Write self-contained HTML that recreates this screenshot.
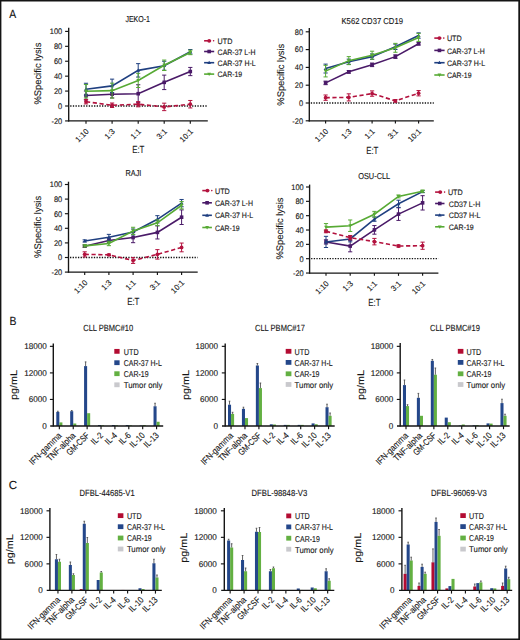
<!DOCTYPE html>
<html><head><meta charset="utf-8"><style>
html,body{margin:0;padding:0;background:#fff;}
svg{display:block;}
text{font-family:"Liberation Sans",sans-serif;text-rendering:geometricPrecision;}
</style></head><body>
<svg width="520" height="640" viewBox="0 0 520 640">
<rect width="520" height="640" fill="#fff"/>
<line x1="68.70" y1="27.70" x2="68.70" y2="121.52" stroke="#151515" stroke-width="1.35"/>
<line x1="68.10" y1="120.92" x2="207.80" y2="120.92" stroke="#151515" stroke-width="1.3"/>
<line x1="65.10" y1="120.92" x2="68.70" y2="120.92" stroke="#151515" stroke-width="1.15"/>
<text transform="translate(62.20,123.77) scale(0.920,1)" font-size="8.1" text-anchor="end" fill="#161616" stroke="#161616" stroke-width="0.12">-20</text>
<line x1="65.10" y1="106.00" x2="68.70" y2="106.00" stroke="#151515" stroke-width="1.15"/>
<text transform="translate(62.20,108.85) scale(0.920,1)" font-size="8.1" text-anchor="end" fill="#161616" stroke="#161616" stroke-width="0.12">0</text>
<line x1="65.10" y1="91.08" x2="68.70" y2="91.08" stroke="#151515" stroke-width="1.15"/>
<text transform="translate(62.20,93.93) scale(0.920,1)" font-size="8.1" text-anchor="end" fill="#161616" stroke="#161616" stroke-width="0.12">20</text>
<line x1="65.10" y1="76.16" x2="68.70" y2="76.16" stroke="#151515" stroke-width="1.15"/>
<text transform="translate(62.20,79.01) scale(0.920,1)" font-size="8.1" text-anchor="end" fill="#161616" stroke="#161616" stroke-width="0.12">40</text>
<line x1="65.10" y1="61.24" x2="68.70" y2="61.24" stroke="#151515" stroke-width="1.15"/>
<text transform="translate(62.20,64.09) scale(0.920,1)" font-size="8.1" text-anchor="end" fill="#161616" stroke="#161616" stroke-width="0.12">60</text>
<line x1="65.10" y1="46.32" x2="68.70" y2="46.32" stroke="#151515" stroke-width="1.15"/>
<text transform="translate(62.20,49.17) scale(0.920,1)" font-size="8.1" text-anchor="end" fill="#161616" stroke="#161616" stroke-width="0.12">80</text>
<line x1="65.10" y1="31.40" x2="68.70" y2="31.40" stroke="#151515" stroke-width="1.15"/>
<text transform="translate(62.20,34.25) scale(0.920,1)" font-size="8.1" text-anchor="end" fill="#161616" stroke="#161616" stroke-width="0.12">100</text>
<line x1="86.00" y1="120.92" x2="86.00" y2="123.72" stroke="#151515" stroke-width="1.15"/>
<text transform="translate(89.30,131.92) rotate(-45) scale(0.980,1)" font-size="8.0" text-anchor="end" fill="#161616" stroke="#161616" stroke-width="0.12">1:10</text>
<line x1="112.10" y1="120.92" x2="112.10" y2="123.72" stroke="#151515" stroke-width="1.15"/>
<text transform="translate(115.40,131.92) rotate(-45) scale(0.980,1)" font-size="8.0" text-anchor="end" fill="#161616" stroke="#161616" stroke-width="0.12">1:3</text>
<line x1="138.20" y1="120.92" x2="138.20" y2="123.72" stroke="#151515" stroke-width="1.15"/>
<text transform="translate(141.50,131.92) rotate(-45) scale(0.980,1)" font-size="8.0" text-anchor="end" fill="#161616" stroke="#161616" stroke-width="0.12">1:1</text>
<line x1="164.20" y1="120.92" x2="164.20" y2="123.72" stroke="#151515" stroke-width="1.15"/>
<text transform="translate(167.50,131.92) rotate(-45) scale(0.980,1)" font-size="8.0" text-anchor="end" fill="#161616" stroke="#161616" stroke-width="0.12">3:1</text>
<line x1="190.30" y1="120.92" x2="190.30" y2="123.72" stroke="#151515" stroke-width="1.15"/>
<text transform="translate(193.60,131.92) rotate(-45) scale(0.980,1)" font-size="8.0" text-anchor="end" fill="#161616" stroke="#161616" stroke-width="0.12">10:1</text>
<line x1="70.20" y1="106.00" x2="207.80" y2="106.00" stroke="#111" stroke-width="1.3" stroke-dasharray="1.3,1.35"/>
<polyline points="86.00,95.56 112.10,94.21 138.20,93.69 164.20,82.35 190.30,71.53" fill="none" stroke="#4A1A68" stroke-width="1.6"/>
<line x1="86.00" y1="91.08" x2="86.00" y2="100.03" stroke="#4A1A68" stroke-width="1.0"/>
<line x1="83.90" y1="91.08" x2="88.10" y2="91.08" stroke="#4A1A68" stroke-width="1.0"/>
<line x1="83.90" y1="100.03" x2="88.10" y2="100.03" stroke="#4A1A68" stroke-width="1.0"/>
<rect x="84.20" y="93.76" width="3.6" height="3.6" fill="#4A1A68"/>
<line x1="112.10" y1="90.48" x2="112.10" y2="97.94" stroke="#4A1A68" stroke-width="1.0"/>
<line x1="110.00" y1="90.48" x2="114.20" y2="90.48" stroke="#4A1A68" stroke-width="1.0"/>
<line x1="110.00" y1="97.94" x2="114.20" y2="97.94" stroke="#4A1A68" stroke-width="1.0"/>
<rect x="110.30" y="92.41" width="3.6" height="3.6" fill="#4A1A68"/>
<line x1="138.20" y1="84.74" x2="138.20" y2="102.64" stroke="#4A1A68" stroke-width="1.0"/>
<line x1="136.10" y1="84.74" x2="140.30" y2="84.74" stroke="#4A1A68" stroke-width="1.0"/>
<line x1="136.10" y1="102.64" x2="140.30" y2="102.64" stroke="#4A1A68" stroke-width="1.0"/>
<rect x="136.40" y="91.89" width="3.6" height="3.6" fill="#4A1A68"/>
<line x1="164.20" y1="75.12" x2="164.20" y2="89.59" stroke="#4A1A68" stroke-width="1.0"/>
<line x1="162.10" y1="75.12" x2="166.30" y2="75.12" stroke="#4A1A68" stroke-width="1.0"/>
<line x1="162.10" y1="89.59" x2="166.30" y2="89.59" stroke="#4A1A68" stroke-width="1.0"/>
<rect x="162.40" y="80.55" width="3.6" height="3.6" fill="#4A1A68"/>
<line x1="190.30" y1="67.43" x2="190.30" y2="75.64" stroke="#4A1A68" stroke-width="1.0"/>
<line x1="188.20" y1="67.43" x2="192.40" y2="67.43" stroke="#4A1A68" stroke-width="1.0"/>
<line x1="188.20" y1="75.64" x2="192.40" y2="75.64" stroke="#4A1A68" stroke-width="1.0"/>
<rect x="188.50" y="69.73" width="3.6" height="3.6" fill="#4A1A68"/>
<polyline points="86.00,89.22 112.10,85.86 138.20,70.34 164.20,65.72 190.30,51.77" fill="none" stroke="#1F3F80" stroke-width="1.6"/>
<line x1="86.00" y1="83.25" x2="86.00" y2="95.18" stroke="#1F3F80" stroke-width="1.0"/>
<line x1="83.90" y1="83.25" x2="88.10" y2="83.25" stroke="#1F3F80" stroke-width="1.0"/>
<line x1="83.90" y1="95.18" x2="88.10" y2="95.18" stroke="#1F3F80" stroke-width="1.0"/>
<path d="M84.10,90.62 L87.90,90.62 L86.00,87.31 Z" fill="#1F3F80"/>
<line x1="112.10" y1="79.14" x2="112.10" y2="92.57" stroke="#1F3F80" stroke-width="1.0"/>
<line x1="110.00" y1="79.14" x2="114.20" y2="79.14" stroke="#1F3F80" stroke-width="1.0"/>
<line x1="110.00" y1="92.57" x2="114.20" y2="92.57" stroke="#1F3F80" stroke-width="1.0"/>
<path d="M110.20,87.26 L114.00,87.26 L112.10,83.96 Z" fill="#1F3F80"/>
<line x1="138.20" y1="63.63" x2="138.20" y2="77.06" stroke="#1F3F80" stroke-width="1.0"/>
<line x1="136.10" y1="63.63" x2="140.30" y2="63.63" stroke="#1F3F80" stroke-width="1.0"/>
<line x1="136.10" y1="77.06" x2="140.30" y2="77.06" stroke="#1F3F80" stroke-width="1.0"/>
<path d="M136.30,71.74 L140.10,71.74 L138.20,68.44 Z" fill="#1F3F80"/>
<line x1="164.20" y1="61.24" x2="164.20" y2="70.19" stroke="#1F3F80" stroke-width="1.0"/>
<line x1="162.10" y1="61.24" x2="166.30" y2="61.24" stroke="#1F3F80" stroke-width="1.0"/>
<line x1="162.10" y1="70.19" x2="166.30" y2="70.19" stroke="#1F3F80" stroke-width="1.0"/>
<path d="M162.30,67.12 L166.10,67.12 L164.20,63.82 Z" fill="#1F3F80"/>
<line x1="190.30" y1="49.53" x2="190.30" y2="54.00" stroke="#1F3F80" stroke-width="1.0"/>
<line x1="188.20" y1="49.53" x2="192.40" y2="49.53" stroke="#1F3F80" stroke-width="1.0"/>
<line x1="188.20" y1="54.00" x2="192.40" y2="54.00" stroke="#1F3F80" stroke-width="1.0"/>
<path d="M188.40,53.17 L192.20,53.17 L190.30,49.87 Z" fill="#1F3F80"/>
<polyline points="86.00,91.23 112.10,90.63 138.20,80.41 164.20,65.27 190.30,52.44" fill="none" stroke="#57AA34" stroke-width="1.6"/>
<line x1="86.00" y1="84.52" x2="86.00" y2="97.94" stroke="#57AA34" stroke-width="1.0"/>
<line x1="83.90" y1="84.52" x2="88.10" y2="84.52" stroke="#57AA34" stroke-width="1.0"/>
<line x1="83.90" y1="97.94" x2="88.10" y2="97.94" stroke="#57AA34" stroke-width="1.0"/>
<path d="M84.10,89.83 L87.90,89.83 L86.00,93.13 Z" fill="#57AA34"/>
<line x1="112.10" y1="83.17" x2="112.10" y2="98.09" stroke="#57AA34" stroke-width="1.0"/>
<line x1="110.00" y1="83.17" x2="114.20" y2="83.17" stroke="#57AA34" stroke-width="1.0"/>
<line x1="110.00" y1="98.09" x2="114.20" y2="98.09" stroke="#57AA34" stroke-width="1.0"/>
<path d="M110.20,89.23 L114.00,89.23 L112.10,92.53 Z" fill="#57AA34"/>
<line x1="138.20" y1="73.33" x2="138.20" y2="87.50" stroke="#57AA34" stroke-width="1.0"/>
<line x1="136.10" y1="73.33" x2="140.30" y2="73.33" stroke="#57AA34" stroke-width="1.0"/>
<line x1="136.10" y1="87.50" x2="140.30" y2="87.50" stroke="#57AA34" stroke-width="1.0"/>
<path d="M136.30,79.01 L140.10,79.01 L138.20,82.31 Z" fill="#57AA34"/>
<line x1="164.20" y1="60.05" x2="164.20" y2="70.49" stroke="#57AA34" stroke-width="1.0"/>
<line x1="162.10" y1="60.05" x2="166.30" y2="60.05" stroke="#57AA34" stroke-width="1.0"/>
<line x1="162.10" y1="70.49" x2="166.30" y2="70.49" stroke="#57AA34" stroke-width="1.0"/>
<path d="M162.30,63.87 L166.10,63.87 L164.20,67.17 Z" fill="#57AA34"/>
<line x1="190.30" y1="50.20" x2="190.30" y2="54.68" stroke="#57AA34" stroke-width="1.0"/>
<line x1="188.20" y1="50.20" x2="192.40" y2="50.20" stroke="#57AA34" stroke-width="1.0"/>
<line x1="188.20" y1="54.68" x2="192.40" y2="54.68" stroke="#57AA34" stroke-width="1.0"/>
<path d="M188.40,51.04 L192.20,51.04 L190.30,54.34 Z" fill="#57AA34"/>
<polyline points="86.00,101.67 112.10,105.25 138.20,104.21 164.20,106.90 190.30,104.21" fill="none" stroke="#B3123E" stroke-width="1.6" stroke-dasharray="4.2,2.6"/>
<line x1="86.00" y1="99.44" x2="86.00" y2="103.91" stroke="#B3123E" stroke-width="1.0"/>
<line x1="83.90" y1="99.44" x2="88.10" y2="99.44" stroke="#B3123E" stroke-width="1.0"/>
<line x1="83.90" y1="103.91" x2="88.10" y2="103.91" stroke="#B3123E" stroke-width="1.0"/>
<circle cx="86.00" cy="101.67" r="1.9" fill="#B3123E"/>
<line x1="112.10" y1="103.02" x2="112.10" y2="107.49" stroke="#B3123E" stroke-width="1.0"/>
<line x1="110.00" y1="103.02" x2="114.20" y2="103.02" stroke="#B3123E" stroke-width="1.0"/>
<line x1="110.00" y1="107.49" x2="114.20" y2="107.49" stroke="#B3123E" stroke-width="1.0"/>
<circle cx="112.10" cy="105.25" r="1.9" fill="#B3123E"/>
<line x1="138.20" y1="101.60" x2="138.20" y2="106.82" stroke="#B3123E" stroke-width="1.0"/>
<line x1="136.10" y1="101.60" x2="140.30" y2="101.60" stroke="#B3123E" stroke-width="1.0"/>
<line x1="136.10" y1="106.82" x2="140.30" y2="106.82" stroke="#B3123E" stroke-width="1.0"/>
<circle cx="138.20" cy="104.21" r="1.9" fill="#B3123E"/>
<line x1="164.20" y1="103.17" x2="164.20" y2="110.63" stroke="#B3123E" stroke-width="1.0"/>
<line x1="162.10" y1="103.17" x2="166.30" y2="103.17" stroke="#B3123E" stroke-width="1.0"/>
<line x1="162.10" y1="110.63" x2="166.30" y2="110.63" stroke="#B3123E" stroke-width="1.0"/>
<circle cx="164.20" cy="106.90" r="1.9" fill="#B3123E"/>
<line x1="190.30" y1="100.48" x2="190.30" y2="107.94" stroke="#B3123E" stroke-width="1.0"/>
<line x1="188.20" y1="100.48" x2="192.40" y2="100.48" stroke="#B3123E" stroke-width="1.0"/>
<line x1="188.20" y1="107.94" x2="192.40" y2="107.94" stroke="#B3123E" stroke-width="1.0"/>
<circle cx="190.30" cy="104.21" r="1.9" fill="#B3123E"/>
<text transform="translate(137.70,22.10) scale(0.817,1)" font-size="8.6" text-anchor="middle" fill="#161616" stroke="#161616" stroke-width="0.12">JEKO-1</text>
<text transform="translate(138.30,153.10) scale(0.770,1)" font-size="10.3" text-anchor="middle" fill="#161616" stroke="#161616" stroke-width="0.12">E:T</text>
<text transform="translate(41.00,73.60) rotate(-90) scale(0.977,1)" font-size="9.6" text-anchor="middle" fill="#161616" stroke="#161616" stroke-width="0.12">%Specific lysis</text>
<line x1="204.10" y1="40.80" x2="211.10" y2="40.80" stroke="#B3123E" stroke-width="1.6"/>
<circle cx="209.20" cy="40.80" r="1.9" fill="#B3123E"/>
<circle cx="213.60" cy="40.80" r="0.8" fill="#B3123E"/>
<text transform="translate(217.60,43.90) scale(0.912,1)" font-size="7.9" text-anchor="start" fill="#161616" stroke="#161616" stroke-width="0.12">UTD</text>
<line x1="204.10" y1="51.50" x2="214.20" y2="51.50" stroke="#4A1A68" stroke-width="1.6"/>
<rect x="207.35" y="49.70" width="3.6" height="3.6" fill="#4A1A68"/>
<text transform="translate(217.60,54.60) scale(0.883,1)" font-size="7.9" text-anchor="start" fill="#161616" stroke="#161616" stroke-width="0.12">CAR-37 L-H</text>
<line x1="204.10" y1="62.70" x2="214.20" y2="62.70" stroke="#1F3F80" stroke-width="1.6"/>
<path d="M207.25,64.10 L211.05,64.10 L209.15,60.80 Z" fill="#1F3F80"/>
<text transform="translate(217.60,65.80) scale(0.888,1)" font-size="7.9" text-anchor="start" fill="#161616" stroke="#161616" stroke-width="0.12">CAR-37 H-L</text>
<line x1="204.10" y1="74.10" x2="214.20" y2="74.10" stroke="#57AA34" stroke-width="1.6"/>
<path d="M207.25,72.70 L211.05,72.70 L209.15,76.00 Z" fill="#57AA34"/>
<text transform="translate(217.60,77.20) scale(0.876,1)" font-size="7.9" text-anchor="start" fill="#161616" stroke="#161616" stroke-width="0.12">CAR-19</text>
<line x1="309.30" y1="28.10" x2="309.30" y2="121.40" stroke="#151515" stroke-width="1.35"/>
<line x1="308.70" y1="120.80" x2="433.80" y2="120.80" stroke="#151515" stroke-width="1.3"/>
<line x1="305.70" y1="120.80" x2="309.30" y2="120.80" stroke="#151515" stroke-width="1.15"/>
<text transform="translate(303.10,123.65) scale(0.920,1)" font-size="8.1" text-anchor="end" fill="#161616" stroke="#161616" stroke-width="0.12">-20</text>
<line x1="305.70" y1="103.00" x2="309.30" y2="103.00" stroke="#151515" stroke-width="1.15"/>
<text transform="translate(303.10,105.85) scale(0.920,1)" font-size="8.1" text-anchor="end" fill="#161616" stroke="#161616" stroke-width="0.12">0</text>
<line x1="305.70" y1="85.20" x2="309.30" y2="85.20" stroke="#151515" stroke-width="1.15"/>
<text transform="translate(303.10,88.05) scale(0.920,1)" font-size="8.1" text-anchor="end" fill="#161616" stroke="#161616" stroke-width="0.12">20</text>
<line x1="305.70" y1="67.40" x2="309.30" y2="67.40" stroke="#151515" stroke-width="1.15"/>
<text transform="translate(303.10,70.25) scale(0.920,1)" font-size="8.1" text-anchor="end" fill="#161616" stroke="#161616" stroke-width="0.12">40</text>
<line x1="305.70" y1="49.60" x2="309.30" y2="49.60" stroke="#151515" stroke-width="1.15"/>
<text transform="translate(303.10,52.45) scale(0.920,1)" font-size="8.1" text-anchor="end" fill="#161616" stroke="#161616" stroke-width="0.12">60</text>
<line x1="305.70" y1="31.80" x2="309.30" y2="31.80" stroke="#151515" stroke-width="1.15"/>
<text transform="translate(303.10,34.65) scale(0.920,1)" font-size="8.1" text-anchor="end" fill="#161616" stroke="#161616" stroke-width="0.12">80</text>
<line x1="325.60" y1="120.80" x2="325.60" y2="123.60" stroke="#151515" stroke-width="1.15"/>
<text transform="translate(328.90,131.80) rotate(-45) scale(0.980,1)" font-size="8.0" text-anchor="end" fill="#161616" stroke="#161616" stroke-width="0.12">1:10</text>
<line x1="348.80" y1="120.80" x2="348.80" y2="123.60" stroke="#151515" stroke-width="1.15"/>
<text transform="translate(352.10,131.80) rotate(-45) scale(0.980,1)" font-size="8.0" text-anchor="end" fill="#161616" stroke="#161616" stroke-width="0.12">1:3</text>
<line x1="372.10" y1="120.80" x2="372.10" y2="123.60" stroke="#151515" stroke-width="1.15"/>
<text transform="translate(375.40,131.80) rotate(-45) scale(0.980,1)" font-size="8.0" text-anchor="end" fill="#161616" stroke="#161616" stroke-width="0.12">1:1</text>
<line x1="395.40" y1="120.80" x2="395.40" y2="123.60" stroke="#151515" stroke-width="1.15"/>
<text transform="translate(398.70,131.80) rotate(-45) scale(0.980,1)" font-size="8.0" text-anchor="end" fill="#161616" stroke="#161616" stroke-width="0.12">3:1</text>
<line x1="418.60" y1="120.80" x2="418.60" y2="123.60" stroke="#151515" stroke-width="1.15"/>
<text transform="translate(421.90,131.80) rotate(-45) scale(0.980,1)" font-size="8.0" text-anchor="end" fill="#161616" stroke="#161616" stroke-width="0.12">10:1</text>
<line x1="310.80" y1="103.00" x2="433.80" y2="103.00" stroke="#111" stroke-width="1.3" stroke-dasharray="1.3,1.35"/>
<polyline points="325.60,82.89 348.80,71.85 372.10,64.82 395.40,56.63 418.60,43.73" fill="none" stroke="#4A1A68" stroke-width="1.6"/>
<line x1="325.60" y1="81.11" x2="325.60" y2="84.67" stroke="#4A1A68" stroke-width="1.0"/>
<line x1="323.50" y1="81.11" x2="327.70" y2="81.11" stroke="#4A1A68" stroke-width="1.0"/>
<line x1="323.50" y1="84.67" x2="327.70" y2="84.67" stroke="#4A1A68" stroke-width="1.0"/>
<rect x="323.80" y="81.09" width="3.6" height="3.6" fill="#4A1A68"/>
<line x1="348.80" y1="70.52" x2="348.80" y2="73.18" stroke="#4A1A68" stroke-width="1.0"/>
<line x1="346.70" y1="70.52" x2="350.90" y2="70.52" stroke="#4A1A68" stroke-width="1.0"/>
<line x1="346.70" y1="73.18" x2="350.90" y2="73.18" stroke="#4A1A68" stroke-width="1.0"/>
<rect x="347.00" y="70.05" width="3.6" height="3.6" fill="#4A1A68"/>
<line x1="372.10" y1="63.04" x2="372.10" y2="66.60" stroke="#4A1A68" stroke-width="1.0"/>
<line x1="370.00" y1="63.04" x2="374.20" y2="63.04" stroke="#4A1A68" stroke-width="1.0"/>
<line x1="370.00" y1="66.60" x2="374.20" y2="66.60" stroke="#4A1A68" stroke-width="1.0"/>
<rect x="370.30" y="63.02" width="3.6" height="3.6" fill="#4A1A68"/>
<line x1="395.40" y1="54.85" x2="395.40" y2="58.41" stroke="#4A1A68" stroke-width="1.0"/>
<line x1="393.30" y1="54.85" x2="397.50" y2="54.85" stroke="#4A1A68" stroke-width="1.0"/>
<line x1="393.30" y1="58.41" x2="397.50" y2="58.41" stroke="#4A1A68" stroke-width="1.0"/>
<rect x="393.60" y="54.83" width="3.6" height="3.6" fill="#4A1A68"/>
<line x1="418.60" y1="42.39" x2="418.60" y2="45.06" stroke="#4A1A68" stroke-width="1.0"/>
<line x1="416.50" y1="42.39" x2="420.70" y2="42.39" stroke="#4A1A68" stroke-width="1.0"/>
<line x1="416.50" y1="45.06" x2="420.70" y2="45.06" stroke="#4A1A68" stroke-width="1.0"/>
<rect x="416.80" y="41.93" width="3.6" height="3.6" fill="#4A1A68"/>
<polyline points="325.60,68.56 348.80,61.79 372.10,56.63 395.40,46.84 418.60,35.54" fill="none" stroke="#1F3F80" stroke-width="1.6"/>
<line x1="325.60" y1="64.11" x2="325.60" y2="73.01" stroke="#1F3F80" stroke-width="1.0"/>
<line x1="323.50" y1="64.11" x2="327.70" y2="64.11" stroke="#1F3F80" stroke-width="1.0"/>
<line x1="323.50" y1="73.01" x2="327.70" y2="73.01" stroke="#1F3F80" stroke-width="1.0"/>
<path d="M323.70,69.96 L327.50,69.96 L325.60,66.66 Z" fill="#1F3F80"/>
<line x1="348.80" y1="59.12" x2="348.80" y2="64.46" stroke="#1F3F80" stroke-width="1.0"/>
<line x1="346.70" y1="59.12" x2="350.90" y2="59.12" stroke="#1F3F80" stroke-width="1.0"/>
<line x1="346.70" y1="64.46" x2="350.90" y2="64.46" stroke="#1F3F80" stroke-width="1.0"/>
<path d="M346.90,63.19 L350.70,63.19 L348.80,59.89 Z" fill="#1F3F80"/>
<line x1="372.10" y1="53.96" x2="372.10" y2="59.30" stroke="#1F3F80" stroke-width="1.0"/>
<line x1="370.00" y1="53.96" x2="374.20" y2="53.96" stroke="#1F3F80" stroke-width="1.0"/>
<line x1="370.00" y1="59.30" x2="374.20" y2="59.30" stroke="#1F3F80" stroke-width="1.0"/>
<path d="M370.20,58.03 L374.00,58.03 L372.10,54.73 Z" fill="#1F3F80"/>
<line x1="395.40" y1="44.17" x2="395.40" y2="49.51" stroke="#1F3F80" stroke-width="1.0"/>
<line x1="393.30" y1="44.17" x2="397.50" y2="44.17" stroke="#1F3F80" stroke-width="1.0"/>
<line x1="393.30" y1="49.51" x2="397.50" y2="49.51" stroke="#1F3F80" stroke-width="1.0"/>
<path d="M393.50,48.24 L397.30,48.24 L395.40,44.94 Z" fill="#1F3F80"/>
<line x1="418.60" y1="32.87" x2="418.60" y2="38.21" stroke="#1F3F80" stroke-width="1.0"/>
<line x1="416.50" y1="32.87" x2="420.70" y2="32.87" stroke="#1F3F80" stroke-width="1.0"/>
<line x1="416.50" y1="38.21" x2="420.70" y2="38.21" stroke="#1F3F80" stroke-width="1.0"/>
<path d="M416.70,36.94 L420.50,36.94 L418.60,33.64 Z" fill="#1F3F80"/>
<polyline points="325.60,71.14 348.80,60.64 372.10,55.21 395.40,47.82 418.60,37.41" fill="none" stroke="#57AA34" stroke-width="1.6"/>
<line x1="325.60" y1="65.35" x2="325.60" y2="76.92" stroke="#57AA34" stroke-width="1.0"/>
<line x1="323.50" y1="65.35" x2="327.70" y2="65.35" stroke="#57AA34" stroke-width="1.0"/>
<line x1="323.50" y1="76.92" x2="327.70" y2="76.92" stroke="#57AA34" stroke-width="1.0"/>
<path d="M323.70,69.74 L327.50,69.74 L325.60,73.04 Z" fill="#57AA34"/>
<line x1="348.80" y1="56.63" x2="348.80" y2="64.64" stroke="#57AA34" stroke-width="1.0"/>
<line x1="346.70" y1="56.63" x2="350.90" y2="56.63" stroke="#57AA34" stroke-width="1.0"/>
<line x1="346.70" y1="64.64" x2="350.90" y2="64.64" stroke="#57AA34" stroke-width="1.0"/>
<path d="M346.90,59.24 L350.70,59.24 L348.80,62.54 Z" fill="#57AA34"/>
<line x1="372.10" y1="51.20" x2="372.10" y2="59.21" stroke="#57AA34" stroke-width="1.0"/>
<line x1="370.00" y1="51.20" x2="374.20" y2="51.20" stroke="#57AA34" stroke-width="1.0"/>
<line x1="370.00" y1="59.21" x2="374.20" y2="59.21" stroke="#57AA34" stroke-width="1.0"/>
<path d="M370.20,53.81 L374.00,53.81 L372.10,57.11 Z" fill="#57AA34"/>
<line x1="395.40" y1="43.37" x2="395.40" y2="52.27" stroke="#57AA34" stroke-width="1.0"/>
<line x1="393.30" y1="43.37" x2="397.50" y2="43.37" stroke="#57AA34" stroke-width="1.0"/>
<line x1="393.30" y1="52.27" x2="397.50" y2="52.27" stroke="#57AA34" stroke-width="1.0"/>
<path d="M393.50,46.42 L397.30,46.42 L395.40,49.72 Z" fill="#57AA34"/>
<line x1="418.60" y1="33.40" x2="418.60" y2="41.41" stroke="#57AA34" stroke-width="1.0"/>
<line x1="416.50" y1="33.40" x2="420.70" y2="33.40" stroke="#57AA34" stroke-width="1.0"/>
<line x1="416.50" y1="41.41" x2="420.70" y2="41.41" stroke="#57AA34" stroke-width="1.0"/>
<path d="M416.70,36.01 L420.50,36.01 L418.60,39.31 Z" fill="#57AA34"/>
<polyline points="325.60,97.66 348.80,97.39 372.10,93.57 395.40,100.86 418.60,93.21" fill="none" stroke="#B3123E" stroke-width="1.6" stroke-dasharray="4.2,2.6"/>
<line x1="325.60" y1="94.99" x2="325.60" y2="100.33" stroke="#B3123E" stroke-width="1.0"/>
<line x1="323.50" y1="94.99" x2="327.70" y2="94.99" stroke="#B3123E" stroke-width="1.0"/>
<line x1="323.50" y1="100.33" x2="327.70" y2="100.33" stroke="#B3123E" stroke-width="1.0"/>
<circle cx="325.60" cy="97.66" r="1.9" fill="#B3123E"/>
<line x1="348.80" y1="93.83" x2="348.80" y2="100.95" stroke="#B3123E" stroke-width="1.0"/>
<line x1="346.70" y1="93.83" x2="350.90" y2="93.83" stroke="#B3123E" stroke-width="1.0"/>
<line x1="346.70" y1="100.95" x2="350.90" y2="100.95" stroke="#B3123E" stroke-width="1.0"/>
<circle cx="348.80" cy="97.39" r="1.9" fill="#B3123E"/>
<line x1="372.10" y1="90.90" x2="372.10" y2="96.24" stroke="#B3123E" stroke-width="1.0"/>
<line x1="370.00" y1="90.90" x2="374.20" y2="90.90" stroke="#B3123E" stroke-width="1.0"/>
<line x1="370.00" y1="96.24" x2="374.20" y2="96.24" stroke="#B3123E" stroke-width="1.0"/>
<circle cx="372.10" cy="93.57" r="1.9" fill="#B3123E"/>
<line x1="395.40" y1="99.53" x2="395.40" y2="102.20" stroke="#B3123E" stroke-width="1.0"/>
<line x1="393.30" y1="99.53" x2="397.50" y2="99.53" stroke="#B3123E" stroke-width="1.0"/>
<line x1="393.30" y1="102.20" x2="397.50" y2="102.20" stroke="#B3123E" stroke-width="1.0"/>
<circle cx="395.40" cy="100.86" r="1.9" fill="#B3123E"/>
<line x1="418.60" y1="90.54" x2="418.60" y2="95.88" stroke="#B3123E" stroke-width="1.0"/>
<line x1="416.50" y1="90.54" x2="420.70" y2="90.54" stroke="#B3123E" stroke-width="1.0"/>
<line x1="416.50" y1="95.88" x2="420.70" y2="95.88" stroke="#B3123E" stroke-width="1.0"/>
<circle cx="418.60" cy="93.21" r="1.9" fill="#B3123E"/>
<text transform="translate(372.20,23.50) scale(0.893,1)" font-size="8.6" text-anchor="middle" fill="#161616" stroke="#161616" stroke-width="0.12">K562 CD37 CD19</text>
<text transform="translate(372.30,154.30) scale(0.770,1)" font-size="10.3" text-anchor="middle" fill="#161616" stroke="#161616" stroke-width="0.12">E:T</text>
<text transform="translate(284.10,74.70) rotate(-90) scale(0.977,1)" font-size="9.6" text-anchor="middle" fill="#161616" stroke="#161616" stroke-width="0.12">%Specific lysis</text>
<line x1="434.30" y1="38.10" x2="441.30" y2="38.10" stroke="#B3123E" stroke-width="1.6"/>
<circle cx="439.40" cy="38.10" r="1.9" fill="#B3123E"/>
<circle cx="443.80" cy="38.10" r="0.8" fill="#B3123E"/>
<text transform="translate(446.90,41.20) scale(0.912,1)" font-size="7.9" text-anchor="start" fill="#161616" stroke="#161616" stroke-width="0.12">UTD</text>
<line x1="434.30" y1="50.40" x2="444.60" y2="50.40" stroke="#4A1A68" stroke-width="1.6"/>
<rect x="437.65" y="48.60" width="3.6" height="3.6" fill="#4A1A68"/>
<text transform="translate(446.90,53.50) scale(0.883,1)" font-size="7.9" text-anchor="start" fill="#161616" stroke="#161616" stroke-width="0.12">CAR-37 L-H</text>
<line x1="434.30" y1="62.70" x2="444.60" y2="62.70" stroke="#1F3F80" stroke-width="1.6"/>
<path d="M437.55,64.10 L441.35,64.10 L439.45,60.80 Z" fill="#1F3F80"/>
<text transform="translate(446.90,65.80) scale(0.888,1)" font-size="7.9" text-anchor="start" fill="#161616" stroke="#161616" stroke-width="0.12">CAR-37 H-L</text>
<line x1="434.30" y1="75.00" x2="444.60" y2="75.00" stroke="#57AA34" stroke-width="1.6"/>
<path d="M437.55,73.60 L441.35,73.60 L439.45,76.90 Z" fill="#57AA34"/>
<text transform="translate(446.90,78.10) scale(0.876,1)" font-size="7.9" text-anchor="start" fill="#161616" stroke="#161616" stroke-width="0.12">CAR-19</text>
<line x1="68.50" y1="181.70" x2="68.50" y2="272.70" stroke="#151515" stroke-width="1.35"/>
<line x1="67.90" y1="272.10" x2="197.70" y2="272.10" stroke="#151515" stroke-width="1.3"/>
<line x1="64.90" y1="272.10" x2="68.50" y2="272.10" stroke="#151515" stroke-width="1.15"/>
<text transform="translate(62.20,274.95) scale(0.920,1)" font-size="8.1" text-anchor="end" fill="#161616" stroke="#161616" stroke-width="0.12">-20</text>
<line x1="64.90" y1="257.50" x2="68.50" y2="257.50" stroke="#151515" stroke-width="1.15"/>
<text transform="translate(62.20,260.35) scale(0.920,1)" font-size="8.1" text-anchor="end" fill="#161616" stroke="#161616" stroke-width="0.12">0</text>
<line x1="64.90" y1="242.90" x2="68.50" y2="242.90" stroke="#151515" stroke-width="1.15"/>
<text transform="translate(62.20,245.75) scale(0.920,1)" font-size="8.1" text-anchor="end" fill="#161616" stroke="#161616" stroke-width="0.12">20</text>
<line x1="64.90" y1="228.30" x2="68.50" y2="228.30" stroke="#151515" stroke-width="1.15"/>
<text transform="translate(62.20,231.15) scale(0.920,1)" font-size="8.1" text-anchor="end" fill="#161616" stroke="#161616" stroke-width="0.12">40</text>
<line x1="64.90" y1="213.70" x2="68.50" y2="213.70" stroke="#151515" stroke-width="1.15"/>
<text transform="translate(62.20,216.55) scale(0.920,1)" font-size="8.1" text-anchor="end" fill="#161616" stroke="#161616" stroke-width="0.12">60</text>
<line x1="64.90" y1="199.10" x2="68.50" y2="199.10" stroke="#151515" stroke-width="1.15"/>
<text transform="translate(62.20,201.95) scale(0.920,1)" font-size="8.1" text-anchor="end" fill="#161616" stroke="#161616" stroke-width="0.12">80</text>
<line x1="64.90" y1="184.50" x2="68.50" y2="184.50" stroke="#151515" stroke-width="1.15"/>
<text transform="translate(62.20,187.35) scale(0.920,1)" font-size="8.1" text-anchor="end" fill="#161616" stroke="#161616" stroke-width="0.12">100</text>
<line x1="84.70" y1="272.10" x2="84.70" y2="274.90" stroke="#151515" stroke-width="1.15"/>
<text transform="translate(88.00,283.10) rotate(-45) scale(0.980,1)" font-size="8.0" text-anchor="end" fill="#161616" stroke="#161616" stroke-width="0.12">1:10</text>
<line x1="108.90" y1="272.10" x2="108.90" y2="274.90" stroke="#151515" stroke-width="1.15"/>
<text transform="translate(112.20,283.10) rotate(-45) scale(0.980,1)" font-size="8.0" text-anchor="end" fill="#161616" stroke="#161616" stroke-width="0.12">1:3</text>
<line x1="133.10" y1="272.10" x2="133.10" y2="274.90" stroke="#151515" stroke-width="1.15"/>
<text transform="translate(136.40,283.10) rotate(-45) scale(0.980,1)" font-size="8.0" text-anchor="end" fill="#161616" stroke="#161616" stroke-width="0.12">1:1</text>
<line x1="157.40" y1="272.10" x2="157.40" y2="274.90" stroke="#151515" stroke-width="1.15"/>
<text transform="translate(160.70,283.10) rotate(-45) scale(0.980,1)" font-size="8.0" text-anchor="end" fill="#161616" stroke="#161616" stroke-width="0.12">3:1</text>
<line x1="181.60" y1="272.10" x2="181.60" y2="274.90" stroke="#151515" stroke-width="1.15"/>
<text transform="translate(184.90,283.10) rotate(-45) scale(0.980,1)" font-size="8.0" text-anchor="end" fill="#161616" stroke="#161616" stroke-width="0.12">10:1</text>
<line x1="70.00" y1="257.50" x2="197.70" y2="257.50" stroke="#111" stroke-width="1.3" stroke-dasharray="1.3,1.35"/>
<polyline points="84.70,246.19 108.90,240.42 133.10,237.57 157.40,232.39 181.60,217.20" fill="none" stroke="#4A1A68" stroke-width="1.6"/>
<line x1="84.70" y1="245.09" x2="84.70" y2="247.28" stroke="#4A1A68" stroke-width="1.0"/>
<line x1="82.60" y1="245.09" x2="86.80" y2="245.09" stroke="#4A1A68" stroke-width="1.0"/>
<line x1="82.60" y1="247.28" x2="86.80" y2="247.28" stroke="#4A1A68" stroke-width="1.0"/>
<rect x="82.90" y="244.38" width="3.6" height="3.6" fill="#4A1A68"/>
<line x1="108.90" y1="238.23" x2="108.90" y2="242.61" stroke="#4A1A68" stroke-width="1.0"/>
<line x1="106.80" y1="238.23" x2="111.00" y2="238.23" stroke="#4A1A68" stroke-width="1.0"/>
<line x1="106.80" y1="242.61" x2="111.00" y2="242.61" stroke="#4A1A68" stroke-width="1.0"/>
<rect x="107.10" y="238.62" width="3.6" height="3.6" fill="#4A1A68"/>
<line x1="133.10" y1="232.46" x2="133.10" y2="242.68" stroke="#4A1A68" stroke-width="1.0"/>
<line x1="131.00" y1="232.46" x2="135.20" y2="232.46" stroke="#4A1A68" stroke-width="1.0"/>
<line x1="131.00" y1="242.68" x2="135.20" y2="242.68" stroke="#4A1A68" stroke-width="1.0"/>
<rect x="131.30" y="235.77" width="3.6" height="3.6" fill="#4A1A68"/>
<line x1="157.40" y1="225.82" x2="157.40" y2="238.96" stroke="#4A1A68" stroke-width="1.0"/>
<line x1="155.30" y1="225.82" x2="159.50" y2="225.82" stroke="#4A1A68" stroke-width="1.0"/>
<line x1="155.30" y1="238.96" x2="159.50" y2="238.96" stroke="#4A1A68" stroke-width="1.0"/>
<rect x="155.60" y="230.59" width="3.6" height="3.6" fill="#4A1A68"/>
<line x1="181.60" y1="209.90" x2="181.60" y2="224.50" stroke="#4A1A68" stroke-width="1.0"/>
<line x1="179.50" y1="209.90" x2="183.70" y2="209.90" stroke="#4A1A68" stroke-width="1.0"/>
<line x1="179.50" y1="224.50" x2="183.70" y2="224.50" stroke="#4A1A68" stroke-width="1.0"/>
<rect x="179.80" y="215.40" width="3.6" height="3.6" fill="#4A1A68"/>
<polyline points="84.70,240.93 108.90,237.28 133.10,231.95 157.40,219.32 181.60,203.12" fill="none" stroke="#1F3F80" stroke-width="1.6"/>
<line x1="84.70" y1="239.83" x2="84.70" y2="242.02" stroke="#1F3F80" stroke-width="1.0"/>
<line x1="82.60" y1="239.83" x2="86.80" y2="239.83" stroke="#1F3F80" stroke-width="1.0"/>
<line x1="82.60" y1="242.02" x2="86.80" y2="242.02" stroke="#1F3F80" stroke-width="1.0"/>
<path d="M82.80,242.33 L86.60,242.33 L84.70,239.03 Z" fill="#1F3F80"/>
<line x1="108.90" y1="234.36" x2="108.90" y2="240.20" stroke="#1F3F80" stroke-width="1.0"/>
<line x1="106.80" y1="234.36" x2="111.00" y2="234.36" stroke="#1F3F80" stroke-width="1.0"/>
<line x1="106.80" y1="240.20" x2="111.00" y2="240.20" stroke="#1F3F80" stroke-width="1.0"/>
<path d="M107.00,238.68 L110.80,238.68 L108.90,235.38 Z" fill="#1F3F80"/>
<line x1="133.10" y1="229.03" x2="133.10" y2="234.87" stroke="#1F3F80" stroke-width="1.0"/>
<line x1="131.00" y1="229.03" x2="135.20" y2="229.03" stroke="#1F3F80" stroke-width="1.0"/>
<line x1="131.00" y1="234.87" x2="135.20" y2="234.87" stroke="#1F3F80" stroke-width="1.0"/>
<path d="M131.20,233.35 L135.00,233.35 L133.10,230.05 Z" fill="#1F3F80"/>
<line x1="157.40" y1="215.67" x2="157.40" y2="222.97" stroke="#1F3F80" stroke-width="1.0"/>
<line x1="155.30" y1="215.67" x2="159.50" y2="215.67" stroke="#1F3F80" stroke-width="1.0"/>
<line x1="155.30" y1="222.97" x2="159.50" y2="222.97" stroke="#1F3F80" stroke-width="1.0"/>
<path d="M155.50,220.72 L159.30,220.72 L157.40,217.42 Z" fill="#1F3F80"/>
<line x1="181.60" y1="199.47" x2="181.60" y2="206.77" stroke="#1F3F80" stroke-width="1.0"/>
<line x1="179.50" y1="199.47" x2="183.70" y2="199.47" stroke="#1F3F80" stroke-width="1.0"/>
<line x1="179.50" y1="206.77" x2="183.70" y2="206.77" stroke="#1F3F80" stroke-width="1.0"/>
<path d="M179.70,204.52 L183.50,204.52 L181.60,201.22 Z" fill="#1F3F80"/>
<polyline points="84.70,245.89 108.90,243.48 133.10,230.93 157.40,222.82 181.60,205.23" fill="none" stroke="#57AA34" stroke-width="1.6"/>
<line x1="84.70" y1="244.80" x2="84.70" y2="246.99" stroke="#57AA34" stroke-width="1.0"/>
<line x1="82.60" y1="244.80" x2="86.80" y2="244.80" stroke="#57AA34" stroke-width="1.0"/>
<line x1="82.60" y1="246.99" x2="86.80" y2="246.99" stroke="#57AA34" stroke-width="1.0"/>
<path d="M82.80,244.49 L86.60,244.49 L84.70,247.79 Z" fill="#57AA34"/>
<line x1="108.90" y1="241.29" x2="108.90" y2="245.67" stroke="#57AA34" stroke-width="1.0"/>
<line x1="106.80" y1="241.29" x2="111.00" y2="241.29" stroke="#57AA34" stroke-width="1.0"/>
<line x1="106.80" y1="245.67" x2="111.00" y2="245.67" stroke="#57AA34" stroke-width="1.0"/>
<path d="M107.00,242.08 L110.80,242.08 L108.90,245.38 Z" fill="#57AA34"/>
<line x1="133.10" y1="227.28" x2="133.10" y2="234.58" stroke="#57AA34" stroke-width="1.0"/>
<line x1="131.00" y1="227.28" x2="135.20" y2="227.28" stroke="#57AA34" stroke-width="1.0"/>
<line x1="131.00" y1="234.58" x2="135.20" y2="234.58" stroke="#57AA34" stroke-width="1.0"/>
<path d="M131.20,229.53 L135.00,229.53 L133.10,232.83 Z" fill="#57AA34"/>
<line x1="157.40" y1="219.91" x2="157.40" y2="225.74" stroke="#57AA34" stroke-width="1.0"/>
<line x1="155.30" y1="219.91" x2="159.50" y2="219.91" stroke="#57AA34" stroke-width="1.0"/>
<line x1="155.30" y1="225.74" x2="159.50" y2="225.74" stroke="#57AA34" stroke-width="1.0"/>
<path d="M155.50,221.42 L159.30,221.42 L157.40,224.72 Z" fill="#57AA34"/>
<line x1="181.60" y1="201.58" x2="181.60" y2="208.88" stroke="#57AA34" stroke-width="1.0"/>
<line x1="179.50" y1="201.58" x2="183.70" y2="201.58" stroke="#57AA34" stroke-width="1.0"/>
<line x1="179.50" y1="208.88" x2="183.70" y2="208.88" stroke="#57AA34" stroke-width="1.0"/>
<path d="M179.70,203.83 L183.50,203.83 L181.60,207.13 Z" fill="#57AA34"/>
<polyline points="84.70,254.36 108.90,254.80 133.10,260.49 157.40,254.36 181.60,247.43" fill="none" stroke="#B3123E" stroke-width="1.6" stroke-dasharray="4.2,2.6"/>
<line x1="84.70" y1="251.81" x2="84.70" y2="256.92" stroke="#B3123E" stroke-width="1.0"/>
<line x1="82.60" y1="251.81" x2="86.80" y2="251.81" stroke="#B3123E" stroke-width="1.0"/>
<line x1="82.60" y1="256.92" x2="86.80" y2="256.92" stroke="#B3123E" stroke-width="1.0"/>
<circle cx="84.70" cy="254.36" r="1.9" fill="#B3123E"/>
<line x1="108.90" y1="254.07" x2="108.90" y2="255.53" stroke="#B3123E" stroke-width="1.0"/>
<line x1="106.80" y1="254.07" x2="111.00" y2="254.07" stroke="#B3123E" stroke-width="1.0"/>
<line x1="106.80" y1="255.53" x2="111.00" y2="255.53" stroke="#B3123E" stroke-width="1.0"/>
<circle cx="108.90" cy="254.80" r="1.9" fill="#B3123E"/>
<line x1="133.10" y1="257.57" x2="133.10" y2="263.41" stroke="#B3123E" stroke-width="1.0"/>
<line x1="131.00" y1="257.57" x2="135.20" y2="257.57" stroke="#B3123E" stroke-width="1.0"/>
<line x1="131.00" y1="263.41" x2="135.20" y2="263.41" stroke="#B3123E" stroke-width="1.0"/>
<circle cx="133.10" cy="260.49" r="1.9" fill="#B3123E"/>
<line x1="157.40" y1="249.62" x2="157.40" y2="259.11" stroke="#B3123E" stroke-width="1.0"/>
<line x1="155.30" y1="249.62" x2="159.50" y2="249.62" stroke="#B3123E" stroke-width="1.0"/>
<line x1="155.30" y1="259.11" x2="159.50" y2="259.11" stroke="#B3123E" stroke-width="1.0"/>
<circle cx="157.40" cy="254.36" r="1.9" fill="#B3123E"/>
<line x1="181.60" y1="243.05" x2="181.60" y2="251.81" stroke="#B3123E" stroke-width="1.0"/>
<line x1="179.50" y1="243.05" x2="183.70" y2="243.05" stroke="#B3123E" stroke-width="1.0"/>
<line x1="179.50" y1="251.81" x2="183.70" y2="251.81" stroke="#B3123E" stroke-width="1.0"/>
<circle cx="181.60" cy="247.43" r="1.9" fill="#B3123E"/>
<text transform="translate(133.50,175.70) scale(0.848,1)" font-size="8.6" text-anchor="middle" fill="#161616" stroke="#161616" stroke-width="0.12">RAJI</text>
<text transform="translate(133.30,304.60) scale(0.770,1)" font-size="10.3" text-anchor="middle" fill="#161616" stroke="#161616" stroke-width="0.12">E:T</text>
<text transform="translate(40.80,226.90) rotate(-90) scale(0.977,1)" font-size="9.6" text-anchor="middle" fill="#161616" stroke="#161616" stroke-width="0.12">%Specific lysis</text>
<line x1="202.30" y1="190.60" x2="209.30" y2="190.60" stroke="#B3123E" stroke-width="1.6"/>
<circle cx="207.40" cy="190.60" r="1.9" fill="#B3123E"/>
<circle cx="211.80" cy="190.60" r="0.8" fill="#B3123E"/>
<text transform="translate(215.00,193.70) scale(0.912,1)" font-size="7.9" text-anchor="start" fill="#161616" stroke="#161616" stroke-width="0.12">UTD</text>
<line x1="202.30" y1="202.80" x2="211.90" y2="202.80" stroke="#4A1A68" stroke-width="1.6"/>
<rect x="205.30" y="201.00" width="3.6" height="3.6" fill="#4A1A68"/>
<text transform="translate(215.00,205.90) scale(0.883,1)" font-size="7.9" text-anchor="start" fill="#161616" stroke="#161616" stroke-width="0.12">CAR-37 L-H</text>
<line x1="202.30" y1="215.30" x2="211.90" y2="215.30" stroke="#1F3F80" stroke-width="1.6"/>
<path d="M205.20,216.70 L209.00,216.70 L207.10,213.40 Z" fill="#1F3F80"/>
<text transform="translate(215.00,218.40) scale(0.888,1)" font-size="7.9" text-anchor="start" fill="#161616" stroke="#161616" stroke-width="0.12">CAR-37 H-L</text>
<line x1="202.30" y1="227.50" x2="211.90" y2="227.50" stroke="#57AA34" stroke-width="1.6"/>
<path d="M205.20,226.10 L209.00,226.10 L207.10,229.40 Z" fill="#57AA34"/>
<text transform="translate(215.00,230.60) scale(0.876,1)" font-size="7.9" text-anchor="start" fill="#161616" stroke="#161616" stroke-width="0.12">CAR-19</text>
<line x1="309.60" y1="184.60" x2="309.60" y2="273.64" stroke="#151515" stroke-width="1.35"/>
<line x1="309.00" y1="273.04" x2="438.40" y2="273.04" stroke="#151515" stroke-width="1.3"/>
<line x1="306.00" y1="273.04" x2="309.60" y2="273.04" stroke="#151515" stroke-width="1.15"/>
<text transform="translate(303.70,275.89) scale(0.920,1)" font-size="8.1" text-anchor="end" fill="#161616" stroke="#161616" stroke-width="0.12">-20</text>
<line x1="306.00" y1="258.70" x2="309.60" y2="258.70" stroke="#151515" stroke-width="1.15"/>
<text transform="translate(303.70,261.55) scale(0.920,1)" font-size="8.1" text-anchor="end" fill="#161616" stroke="#161616" stroke-width="0.12">0</text>
<line x1="306.00" y1="244.36" x2="309.60" y2="244.36" stroke="#151515" stroke-width="1.15"/>
<text transform="translate(303.70,247.21) scale(0.920,1)" font-size="8.1" text-anchor="end" fill="#161616" stroke="#161616" stroke-width="0.12">20</text>
<line x1="306.00" y1="230.02" x2="309.60" y2="230.02" stroke="#151515" stroke-width="1.15"/>
<text transform="translate(303.70,232.87) scale(0.920,1)" font-size="8.1" text-anchor="end" fill="#161616" stroke="#161616" stroke-width="0.12">40</text>
<line x1="306.00" y1="215.68" x2="309.60" y2="215.68" stroke="#151515" stroke-width="1.15"/>
<text transform="translate(303.70,218.53) scale(0.920,1)" font-size="8.1" text-anchor="end" fill="#161616" stroke="#161616" stroke-width="0.12">60</text>
<line x1="306.00" y1="201.34" x2="309.60" y2="201.34" stroke="#151515" stroke-width="1.15"/>
<text transform="translate(303.70,204.19) scale(0.920,1)" font-size="8.1" text-anchor="end" fill="#161616" stroke="#161616" stroke-width="0.12">80</text>
<line x1="306.00" y1="187.00" x2="309.60" y2="187.00" stroke="#151515" stroke-width="1.15"/>
<text transform="translate(303.70,189.85) scale(0.920,1)" font-size="8.1" text-anchor="end" fill="#161616" stroke="#161616" stroke-width="0.12">100</text>
<line x1="326.00" y1="273.04" x2="326.00" y2="275.84" stroke="#151515" stroke-width="1.15"/>
<text transform="translate(329.30,284.04) rotate(-45) scale(0.980,1)" font-size="8.0" text-anchor="end" fill="#161616" stroke="#161616" stroke-width="0.12">1:10</text>
<line x1="350.20" y1="273.04" x2="350.20" y2="275.84" stroke="#151515" stroke-width="1.15"/>
<text transform="translate(353.50,284.04) rotate(-45) scale(0.980,1)" font-size="8.0" text-anchor="end" fill="#161616" stroke="#161616" stroke-width="0.12">1:3</text>
<line x1="374.40" y1="273.04" x2="374.40" y2="275.84" stroke="#151515" stroke-width="1.15"/>
<text transform="translate(377.70,284.04) rotate(-45) scale(0.980,1)" font-size="8.0" text-anchor="end" fill="#161616" stroke="#161616" stroke-width="0.12">1:1</text>
<line x1="398.50" y1="273.04" x2="398.50" y2="275.84" stroke="#151515" stroke-width="1.15"/>
<text transform="translate(401.80,284.04) rotate(-45) scale(0.980,1)" font-size="8.0" text-anchor="end" fill="#161616" stroke="#161616" stroke-width="0.12">3:1</text>
<line x1="422.60" y1="273.04" x2="422.60" y2="275.84" stroke="#151515" stroke-width="1.15"/>
<text transform="translate(425.90,284.04) rotate(-45) scale(0.980,1)" font-size="8.0" text-anchor="end" fill="#161616" stroke="#161616" stroke-width="0.12">10:1</text>
<line x1="311.10" y1="258.70" x2="438.40" y2="258.70" stroke="#111" stroke-width="1.3" stroke-dasharray="1.3,1.35"/>
<polyline points="326.00,241.92 350.20,246.08 374.40,229.88 398.50,214.10 422.60,202.85" fill="none" stroke="#4A1A68" stroke-width="1.6"/>
<line x1="326.00" y1="239.77" x2="326.00" y2="244.07" stroke="#4A1A68" stroke-width="1.0"/>
<line x1="323.90" y1="239.77" x2="328.10" y2="239.77" stroke="#4A1A68" stroke-width="1.0"/>
<line x1="323.90" y1="244.07" x2="328.10" y2="244.07" stroke="#4A1A68" stroke-width="1.0"/>
<rect x="324.20" y="240.12" width="3.6" height="3.6" fill="#4A1A68"/>
<line x1="350.20" y1="240.34" x2="350.20" y2="251.82" stroke="#4A1A68" stroke-width="1.0"/>
<line x1="348.10" y1="240.34" x2="352.30" y2="240.34" stroke="#4A1A68" stroke-width="1.0"/>
<line x1="348.10" y1="251.82" x2="352.30" y2="251.82" stroke="#4A1A68" stroke-width="1.0"/>
<rect x="348.40" y="244.28" width="3.6" height="3.6" fill="#4A1A68"/>
<line x1="374.40" y1="225.57" x2="374.40" y2="234.18" stroke="#4A1A68" stroke-width="1.0"/>
<line x1="372.30" y1="225.57" x2="376.50" y2="225.57" stroke="#4A1A68" stroke-width="1.0"/>
<line x1="372.30" y1="234.18" x2="376.50" y2="234.18" stroke="#4A1A68" stroke-width="1.0"/>
<rect x="372.60" y="228.08" width="3.6" height="3.6" fill="#4A1A68"/>
<line x1="398.50" y1="207.79" x2="398.50" y2="220.41" stroke="#4A1A68" stroke-width="1.0"/>
<line x1="396.40" y1="207.79" x2="400.60" y2="207.79" stroke="#4A1A68" stroke-width="1.0"/>
<line x1="396.40" y1="220.41" x2="400.60" y2="220.41" stroke="#4A1A68" stroke-width="1.0"/>
<rect x="396.70" y="212.30" width="3.6" height="3.6" fill="#4A1A68"/>
<line x1="422.60" y1="195.68" x2="422.60" y2="210.02" stroke="#4A1A68" stroke-width="1.0"/>
<line x1="420.50" y1="195.68" x2="424.70" y2="195.68" stroke="#4A1A68" stroke-width="1.0"/>
<line x1="420.50" y1="210.02" x2="424.70" y2="210.02" stroke="#4A1A68" stroke-width="1.0"/>
<rect x="420.80" y="201.05" width="3.6" height="3.6" fill="#4A1A68"/>
<polyline points="326.00,241.92 350.20,238.98 374.40,219.12 398.50,203.78 422.60,191.59" fill="none" stroke="#1F3F80" stroke-width="1.6"/>
<line x1="326.00" y1="236.33" x2="326.00" y2="247.51" stroke="#1F3F80" stroke-width="1.0"/>
<line x1="323.90" y1="236.33" x2="328.10" y2="236.33" stroke="#1F3F80" stroke-width="1.0"/>
<line x1="323.90" y1="247.51" x2="328.10" y2="247.51" stroke="#1F3F80" stroke-width="1.0"/>
<path d="M324.10,243.32 L327.90,243.32 L326.00,240.02 Z" fill="#1F3F80"/>
<line x1="350.20" y1="236.11" x2="350.20" y2="241.85" stroke="#1F3F80" stroke-width="1.0"/>
<line x1="348.10" y1="236.11" x2="352.30" y2="236.11" stroke="#1F3F80" stroke-width="1.0"/>
<line x1="348.10" y1="241.85" x2="352.30" y2="241.85" stroke="#1F3F80" stroke-width="1.0"/>
<path d="M348.30,240.38 L352.10,240.38 L350.20,237.08 Z" fill="#1F3F80"/>
<line x1="374.40" y1="216.97" x2="374.40" y2="221.27" stroke="#1F3F80" stroke-width="1.0"/>
<line x1="372.30" y1="216.97" x2="376.50" y2="216.97" stroke="#1F3F80" stroke-width="1.0"/>
<line x1="372.30" y1="221.27" x2="376.50" y2="221.27" stroke="#1F3F80" stroke-width="1.0"/>
<path d="M372.50,220.52 L376.30,220.52 L374.40,217.22 Z" fill="#1F3F80"/>
<line x1="398.50" y1="200.19" x2="398.50" y2="207.36" stroke="#1F3F80" stroke-width="1.0"/>
<line x1="396.40" y1="200.19" x2="400.60" y2="200.19" stroke="#1F3F80" stroke-width="1.0"/>
<line x1="396.40" y1="207.36" x2="400.60" y2="207.36" stroke="#1F3F80" stroke-width="1.0"/>
<path d="M396.60,205.18 L400.40,205.18 L398.50,201.88 Z" fill="#1F3F80"/>
<line x1="422.60" y1="190.51" x2="422.60" y2="192.66" stroke="#1F3F80" stroke-width="1.0"/>
<line x1="420.50" y1="190.51" x2="424.70" y2="190.51" stroke="#1F3F80" stroke-width="1.0"/>
<line x1="420.50" y1="192.66" x2="424.70" y2="192.66" stroke="#1F3F80" stroke-width="1.0"/>
<path d="M420.70,192.99 L424.50,192.99 L422.60,189.69 Z" fill="#1F3F80"/>
<polyline points="326.00,227.15 350.20,225.72 374.40,214.25 398.50,196.39 422.60,191.23" fill="none" stroke="#57AA34" stroke-width="1.6"/>
<line x1="326.00" y1="223.57" x2="326.00" y2="230.74" stroke="#57AA34" stroke-width="1.0"/>
<line x1="323.90" y1="223.57" x2="328.10" y2="223.57" stroke="#57AA34" stroke-width="1.0"/>
<line x1="323.90" y1="230.74" x2="328.10" y2="230.74" stroke="#57AA34" stroke-width="1.0"/>
<path d="M324.10,225.75 L327.90,225.75 L326.00,229.05 Z" fill="#57AA34"/>
<line x1="350.20" y1="219.98" x2="350.20" y2="231.45" stroke="#57AA34" stroke-width="1.0"/>
<line x1="348.10" y1="219.98" x2="352.30" y2="219.98" stroke="#57AA34" stroke-width="1.0"/>
<line x1="348.10" y1="231.45" x2="352.30" y2="231.45" stroke="#57AA34" stroke-width="1.0"/>
<path d="M348.30,224.32 L352.10,224.32 L350.20,227.62 Z" fill="#57AA34"/>
<line x1="374.40" y1="211.38" x2="374.40" y2="217.11" stroke="#57AA34" stroke-width="1.0"/>
<line x1="372.30" y1="211.38" x2="376.50" y2="211.38" stroke="#57AA34" stroke-width="1.0"/>
<line x1="372.30" y1="217.11" x2="376.50" y2="217.11" stroke="#57AA34" stroke-width="1.0"/>
<path d="M372.50,212.85 L376.30,212.85 L374.40,216.15 Z" fill="#57AA34"/>
<line x1="398.50" y1="194.96" x2="398.50" y2="197.83" stroke="#57AA34" stroke-width="1.0"/>
<line x1="396.40" y1="194.96" x2="400.60" y2="194.96" stroke="#57AA34" stroke-width="1.0"/>
<line x1="396.40" y1="197.83" x2="400.60" y2="197.83" stroke="#57AA34" stroke-width="1.0"/>
<path d="M396.60,194.99 L400.40,194.99 L398.50,198.29 Z" fill="#57AA34"/>
<line x1="422.60" y1="190.15" x2="422.60" y2="192.31" stroke="#57AA34" stroke-width="1.0"/>
<line x1="420.50" y1="190.15" x2="424.70" y2="190.15" stroke="#57AA34" stroke-width="1.0"/>
<line x1="420.50" y1="192.31" x2="424.70" y2="192.31" stroke="#57AA34" stroke-width="1.0"/>
<path d="M420.70,189.83 L424.50,189.83 L422.60,193.13 Z" fill="#57AA34"/>
<polyline points="326.00,231.31 350.20,237.62 374.40,241.64 398.50,246.01 422.60,245.72" fill="none" stroke="#B3123E" stroke-width="1.6" stroke-dasharray="4.2,2.6"/>
<line x1="326.00" y1="229.88" x2="326.00" y2="232.74" stroke="#B3123E" stroke-width="1.0"/>
<line x1="323.90" y1="229.88" x2="328.10" y2="229.88" stroke="#B3123E" stroke-width="1.0"/>
<line x1="323.90" y1="232.74" x2="328.10" y2="232.74" stroke="#B3123E" stroke-width="1.0"/>
<circle cx="326.00" cy="231.31" r="1.9" fill="#B3123E"/>
<line x1="350.20" y1="235.47" x2="350.20" y2="239.77" stroke="#B3123E" stroke-width="1.0"/>
<line x1="348.10" y1="235.47" x2="352.30" y2="235.47" stroke="#B3123E" stroke-width="1.0"/>
<line x1="348.10" y1="239.77" x2="352.30" y2="239.77" stroke="#B3123E" stroke-width="1.0"/>
<circle cx="350.20" cy="237.62" r="1.9" fill="#B3123E"/>
<line x1="374.40" y1="238.41" x2="374.40" y2="244.86" stroke="#B3123E" stroke-width="1.0"/>
<line x1="372.30" y1="238.41" x2="376.50" y2="238.41" stroke="#B3123E" stroke-width="1.0"/>
<line x1="372.30" y1="244.86" x2="376.50" y2="244.86" stroke="#B3123E" stroke-width="1.0"/>
<circle cx="374.40" cy="241.64" r="1.9" fill="#B3123E"/>
<line x1="398.50" y1="244.93" x2="398.50" y2="247.08" stroke="#B3123E" stroke-width="1.0"/>
<line x1="396.40" y1="244.93" x2="400.60" y2="244.93" stroke="#B3123E" stroke-width="1.0"/>
<line x1="396.40" y1="247.08" x2="400.60" y2="247.08" stroke="#B3123E" stroke-width="1.0"/>
<circle cx="398.50" cy="246.01" r="1.9" fill="#B3123E"/>
<line x1="422.60" y1="242.14" x2="422.60" y2="249.31" stroke="#B3123E" stroke-width="1.0"/>
<line x1="420.50" y1="242.14" x2="424.70" y2="242.14" stroke="#B3123E" stroke-width="1.0"/>
<line x1="420.50" y1="249.31" x2="424.70" y2="249.31" stroke="#B3123E" stroke-width="1.0"/>
<circle cx="422.60" cy="245.72" r="1.9" fill="#B3123E"/>
<text transform="translate(374.20,178.80) scale(0.858,1)" font-size="8.6" text-anchor="middle" fill="#161616" stroke="#161616" stroke-width="0.12">OSU-CLL</text>
<text transform="translate(374.40,305.70) scale(0.770,1)" font-size="10.3" text-anchor="middle" fill="#161616" stroke="#161616" stroke-width="0.12">E:T</text>
<text transform="translate(282.50,228.50) rotate(-90) scale(0.977,1)" font-size="9.6" text-anchor="middle" fill="#161616" stroke="#161616" stroke-width="0.12">%Specific lysis</text>
<line x1="435.10" y1="192.10" x2="442.10" y2="192.10" stroke="#B3123E" stroke-width="1.6"/>
<circle cx="440.20" cy="192.10" r="1.9" fill="#B3123E"/>
<circle cx="444.60" cy="192.10" r="0.8" fill="#B3123E"/>
<text transform="translate(447.90,195.20) scale(0.912,1)" font-size="7.9" text-anchor="start" fill="#161616" stroke="#161616" stroke-width="0.12">UTD</text>
<line x1="435.10" y1="203.50" x2="444.50" y2="203.50" stroke="#4A1A68" stroke-width="1.6"/>
<rect x="438.00" y="201.70" width="3.6" height="3.6" fill="#4A1A68"/>
<text transform="translate(448.80,206.60) scale(0.897,1)" font-size="7.9" text-anchor="start" fill="#161616" stroke="#161616" stroke-width="0.12">CD37 L-H</text>
<line x1="435.10" y1="215.10" x2="444.50" y2="215.10" stroke="#1F3F80" stroke-width="1.6"/>
<path d="M437.90,216.50 L441.70,216.50 L439.80,213.20 Z" fill="#1F3F80"/>
<text transform="translate(448.80,218.20) scale(0.903,1)" font-size="7.9" text-anchor="start" fill="#161616" stroke="#161616" stroke-width="0.12">CD37 H-L</text>
<line x1="435.10" y1="226.80" x2="444.50" y2="226.80" stroke="#57AA34" stroke-width="1.6"/>
<path d="M437.90,225.40 L441.70,225.40 L439.80,228.70 Z" fill="#57AA34"/>
<text transform="translate(448.80,229.90) scale(0.890,1)" font-size="7.9" text-anchor="start" fill="#161616" stroke="#161616" stroke-width="0.12">CAR-19</text>
<rect x="56.30" y="411.90" width="3.05" height="14.10" fill="#24478A"/>
<line x1="57.83" y1="411.24" x2="57.83" y2="411.90" stroke="#505050" stroke-width="0.9"/>
<line x1="57.03" y1="411.24" x2="58.62" y2="411.24" stroke="#505050" stroke-width="0.9"/>
<rect x="59.35" y="422.40" width="3.05" height="3.60" fill="#63B042"/>
<rect x="70.19" y="411.20" width="3.05" height="14.80" fill="#24478A"/>
<line x1="71.72" y1="410.53" x2="71.72" y2="411.20" stroke="#505050" stroke-width="0.9"/>
<line x1="70.92" y1="410.53" x2="72.52" y2="410.53" stroke="#505050" stroke-width="0.9"/>
<rect x="73.24" y="423.50" width="3.05" height="2.50" fill="#63B042"/>
<rect x="84.08" y="366.10" width="3.05" height="59.90" fill="#24478A"/>
<line x1="85.61" y1="361.90" x2="85.61" y2="366.10" stroke="#505050" stroke-width="0.9"/>
<line x1="84.81" y1="361.90" x2="86.41" y2="361.90" stroke="#505050" stroke-width="0.9"/>
<rect x="87.13" y="413.20" width="3.05" height="12.80" fill="#63B042"/>
<rect x="97.97" y="425.03" width="3.05" height="0.97" fill="#24478A"/>
<rect x="101.02" y="425.34" width="3.05" height="0.66" fill="#63B042"/>
<rect x="111.86" y="425.03" width="3.05" height="0.97" fill="#24478A"/>
<rect x="114.91" y="425.34" width="3.05" height="0.66" fill="#63B042"/>
<rect x="125.75" y="425.03" width="3.05" height="0.97" fill="#24478A"/>
<rect x="128.80" y="425.34" width="3.05" height="0.66" fill="#63B042"/>
<rect x="139.64" y="425.56" width="3.05" height="0.44" fill="#24478A"/>
<rect x="142.69" y="425.12" width="3.05" height="0.88" fill="#63B042"/>
<rect x="153.53" y="406.25" width="3.05" height="19.75" fill="#24478A"/>
<line x1="155.06" y1="403.24" x2="155.06" y2="406.25" stroke="#505050" stroke-width="0.9"/>
<line x1="154.25" y1="403.24" x2="155.86" y2="403.24" stroke="#505050" stroke-width="0.9"/>
<rect x="156.58" y="421.75" width="3.05" height="4.25" fill="#63B042"/>
<line x1="53.30" y1="343.50" x2="53.30" y2="426.50" stroke="#151515" stroke-width="1.4"/>
<line x1="50.20" y1="426.00" x2="163.20" y2="426.00" stroke="#151515" stroke-width="1.3"/>
<text transform="translate(46.80,428.90) scale(0.970,1)" font-size="8.4" text-anchor="end" fill="#161616" stroke="#161616" stroke-width="0.12">0</text>
<line x1="49.90" y1="399.45" x2="53.30" y2="399.45" stroke="#151515" stroke-width="1.15"/>
<text transform="translate(46.80,402.35) scale(0.970,1)" font-size="8.4" text-anchor="end" fill="#161616" stroke="#161616" stroke-width="0.12">6000</text>
<line x1="49.90" y1="372.90" x2="53.30" y2="372.90" stroke="#151515" stroke-width="1.15"/>
<text transform="translate(46.80,375.80) scale(0.970,1)" font-size="8.4" text-anchor="end" fill="#161616" stroke="#161616" stroke-width="0.12">12000</text>
<line x1="49.90" y1="346.35" x2="53.30" y2="346.35" stroke="#151515" stroke-width="1.15"/>
<text transform="translate(46.80,349.25) scale(0.970,1)" font-size="8.4" text-anchor="end" fill="#161616" stroke="#161616" stroke-width="0.12">18000</text>
<line x1="59.35" y1="426.00" x2="59.35" y2="429.20" stroke="#151515" stroke-width="1.15"/>
<text transform="translate(62.15,436.10) rotate(-45) scale(0.875,1)" font-size="9.0" text-anchor="end" fill="#161616" stroke="#161616" stroke-width="0.12">IFN-gamma</text>
<line x1="73.24" y1="426.00" x2="73.24" y2="429.20" stroke="#151515" stroke-width="1.15"/>
<text transform="translate(76.04,436.10) rotate(-45) scale(0.857,1)" font-size="9.0" text-anchor="end" fill="#161616" stroke="#161616" stroke-width="0.12">TNF-alpha</text>
<line x1="87.13" y1="426.00" x2="87.13" y2="429.20" stroke="#151515" stroke-width="1.15"/>
<text transform="translate(89.93,436.10) rotate(-45) scale(0.796,1)" font-size="9.0" text-anchor="end" fill="#161616" stroke="#161616" stroke-width="0.12">GM-CSF</text>
<line x1="101.02" y1="426.00" x2="101.02" y2="429.20" stroke="#151515" stroke-width="1.15"/>
<text transform="translate(103.82,436.10) rotate(-45) scale(0.840,1)" font-size="9.0" text-anchor="end" fill="#161616" stroke="#161616" stroke-width="0.12">IL-2</text>
<line x1="114.91" y1="426.00" x2="114.91" y2="429.20" stroke="#151515" stroke-width="1.15"/>
<text transform="translate(117.71,436.10) rotate(-45) scale(0.840,1)" font-size="9.0" text-anchor="end" fill="#161616" stroke="#161616" stroke-width="0.12">IL-4</text>
<line x1="128.80" y1="426.00" x2="128.80" y2="429.20" stroke="#151515" stroke-width="1.15"/>
<text transform="translate(131.60,436.10) rotate(-45) scale(0.840,1)" font-size="9.0" text-anchor="end" fill="#161616" stroke="#161616" stroke-width="0.12">IL-6</text>
<line x1="142.69" y1="426.00" x2="142.69" y2="429.20" stroke="#151515" stroke-width="1.15"/>
<text transform="translate(145.49,436.10) rotate(-45) scale(0.840,1)" font-size="9.0" text-anchor="end" fill="#161616" stroke="#161616" stroke-width="0.12">IL-10</text>
<line x1="156.58" y1="426.00" x2="156.58" y2="429.20" stroke="#151515" stroke-width="1.15"/>
<text transform="translate(159.38,436.10) rotate(-45) scale(0.840,1)" font-size="9.0" text-anchor="end" fill="#161616" stroke="#161616" stroke-width="0.12">IL-13</text>
<text transform="translate(83.20,331.30) scale(0.847,1)" font-size="8.9" text-anchor="start" fill="#161616" stroke="#161616" stroke-width="0.12">CLL PBMC#10</text>
<text transform="translate(16.60,384.90) rotate(-90) scale(1.124,1)" font-size="9.6" text-anchor="middle" fill="#161616" stroke="#161616" stroke-width="0.12">pg/mL</text>
<rect x="114.30" y="348.95" width="5.30" height="4.80" fill="#B30C32"/>
<text transform="translate(123.80,354.70) scale(0.847,1)" font-size="8.5" text-anchor="start" fill="#161616" stroke="#161616" stroke-width="0.12">UTD</text>
<rect x="114.30" y="360.30" width="5.30" height="4.80" fill="#24478A"/>
<text transform="translate(123.80,366.05) scale(0.821,1)" font-size="8.5" text-anchor="start" fill="#161616" stroke="#161616" stroke-width="0.12">CAR-37 H-L</text>
<rect x="114.30" y="371.30" width="5.30" height="4.80" fill="#63B042"/>
<text transform="translate(123.80,377.05) scale(0.820,1)" font-size="8.5" text-anchor="start" fill="#161616" stroke="#161616" stroke-width="0.12">CAR-19</text>
<rect x="114.30" y="382.40" width="5.30" height="4.80" fill="#C9C9CD"/>
<text transform="translate(123.80,388.15) scale(0.915,1)" font-size="8.5" text-anchor="start" fill="#161616" stroke="#161616" stroke-width="0.12">Tumor only</text>
<rect x="228.00" y="404.70" width="3.05" height="21.30" fill="#24478A"/>
<line x1="229.53" y1="401.20" x2="229.53" y2="404.70" stroke="#505050" stroke-width="0.9"/>
<line x1="228.72" y1="401.20" x2="230.33" y2="401.20" stroke="#505050" stroke-width="0.9"/>
<rect x="231.05" y="413.90" width="3.05" height="12.10" fill="#63B042"/>
<line x1="232.58" y1="412.31" x2="232.58" y2="413.90" stroke="#505050" stroke-width="0.9"/>
<line x1="231.78" y1="412.31" x2="233.38" y2="412.31" stroke="#505050" stroke-width="0.9"/>
<rect x="241.93" y="408.80" width="3.05" height="17.20" fill="#24478A"/>
<line x1="243.46" y1="407.21" x2="243.46" y2="408.80" stroke="#505050" stroke-width="0.9"/>
<line x1="242.66" y1="407.21" x2="244.26" y2="407.21" stroke="#505050" stroke-width="0.9"/>
<rect x="244.98" y="418.10" width="3.05" height="7.90" fill="#63B042"/>
<rect x="255.86" y="365.50" width="3.05" height="60.50" fill="#24478A"/>
<line x1="257.38" y1="363.51" x2="257.38" y2="365.50" stroke="#505050" stroke-width="0.9"/>
<line x1="256.58" y1="363.51" x2="258.19" y2="363.51" stroke="#505050" stroke-width="0.9"/>
<rect x="258.91" y="388.10" width="3.05" height="37.90" fill="#63B042"/>
<line x1="260.44" y1="383.01" x2="260.44" y2="388.10" stroke="#505050" stroke-width="0.9"/>
<line x1="259.63" y1="383.01" x2="261.24" y2="383.01" stroke="#505050" stroke-width="0.9"/>
<rect x="269.79" y="424.30" width="3.05" height="1.70" fill="#24478A"/>
<rect x="272.84" y="424.50" width="3.05" height="1.50" fill="#63B042"/>
<rect x="283.72" y="424.89" width="3.05" height="1.11" fill="#24478A"/>
<rect x="286.77" y="424.89" width="3.05" height="1.11" fill="#63B042"/>
<rect x="297.65" y="424.89" width="3.05" height="1.11" fill="#24478A"/>
<rect x="300.70" y="424.89" width="3.05" height="1.11" fill="#63B042"/>
<rect x="311.58" y="423.40" width="3.05" height="2.60" fill="#24478A"/>
<rect x="314.63" y="424.23" width="3.05" height="1.77" fill="#63B042"/>
<rect x="325.51" y="407.20" width="3.05" height="18.80" fill="#24478A"/>
<line x1="327.03" y1="404.19" x2="327.03" y2="407.20" stroke="#505050" stroke-width="0.9"/>
<line x1="326.23" y1="404.19" x2="327.83" y2="404.19" stroke="#505050" stroke-width="0.9"/>
<rect x="328.56" y="415.80" width="3.05" height="10.20" fill="#63B042"/>
<line x1="330.08" y1="413.01" x2="330.08" y2="415.80" stroke="#505050" stroke-width="0.9"/>
<line x1="329.28" y1="413.01" x2="330.88" y2="413.01" stroke="#505050" stroke-width="0.9"/>
<line x1="225.20" y1="343.50" x2="225.20" y2="426.50" stroke="#151515" stroke-width="1.4"/>
<line x1="222.00" y1="426.00" x2="334.70" y2="426.00" stroke="#151515" stroke-width="1.3"/>
<text transform="translate(218.10,428.90) scale(0.970,1)" font-size="8.4" text-anchor="end" fill="#161616" stroke="#161616" stroke-width="0.12">0</text>
<line x1="221.80" y1="399.45" x2="225.20" y2="399.45" stroke="#151515" stroke-width="1.15"/>
<text transform="translate(218.10,402.35) scale(0.970,1)" font-size="8.4" text-anchor="end" fill="#161616" stroke="#161616" stroke-width="0.12">6000</text>
<line x1="221.80" y1="372.90" x2="225.20" y2="372.90" stroke="#151515" stroke-width="1.15"/>
<text transform="translate(218.10,375.80) scale(0.970,1)" font-size="8.4" text-anchor="end" fill="#161616" stroke="#161616" stroke-width="0.12">12000</text>
<line x1="221.80" y1="346.35" x2="225.20" y2="346.35" stroke="#151515" stroke-width="1.15"/>
<text transform="translate(218.10,349.25) scale(0.970,1)" font-size="8.4" text-anchor="end" fill="#161616" stroke="#161616" stroke-width="0.12">18000</text>
<line x1="231.05" y1="426.00" x2="231.05" y2="429.20" stroke="#151515" stroke-width="1.15"/>
<text transform="translate(233.85,436.10) rotate(-45) scale(0.875,1)" font-size="9.0" text-anchor="end" fill="#161616" stroke="#161616" stroke-width="0.12">IFN-gamma</text>
<line x1="244.98" y1="426.00" x2="244.98" y2="429.20" stroke="#151515" stroke-width="1.15"/>
<text transform="translate(247.78,436.10) rotate(-45) scale(0.857,1)" font-size="9.0" text-anchor="end" fill="#161616" stroke="#161616" stroke-width="0.12">TNF-alpha</text>
<line x1="258.91" y1="426.00" x2="258.91" y2="429.20" stroke="#151515" stroke-width="1.15"/>
<text transform="translate(261.71,436.10) rotate(-45) scale(0.796,1)" font-size="9.0" text-anchor="end" fill="#161616" stroke="#161616" stroke-width="0.12">GM-CSF</text>
<line x1="272.84" y1="426.00" x2="272.84" y2="429.20" stroke="#151515" stroke-width="1.15"/>
<text transform="translate(275.64,436.10) rotate(-45) scale(0.840,1)" font-size="9.0" text-anchor="end" fill="#161616" stroke="#161616" stroke-width="0.12">IL-2</text>
<line x1="286.77" y1="426.00" x2="286.77" y2="429.20" stroke="#151515" stroke-width="1.15"/>
<text transform="translate(289.57,436.10) rotate(-45) scale(0.840,1)" font-size="9.0" text-anchor="end" fill="#161616" stroke="#161616" stroke-width="0.12">IL-4</text>
<line x1="300.70" y1="426.00" x2="300.70" y2="429.20" stroke="#151515" stroke-width="1.15"/>
<text transform="translate(303.50,436.10) rotate(-45) scale(0.840,1)" font-size="9.0" text-anchor="end" fill="#161616" stroke="#161616" stroke-width="0.12">IL-6</text>
<line x1="314.63" y1="426.00" x2="314.63" y2="429.20" stroke="#151515" stroke-width="1.15"/>
<text transform="translate(317.43,436.10) rotate(-45) scale(0.840,1)" font-size="9.0" text-anchor="end" fill="#161616" stroke="#161616" stroke-width="0.12">IL-10</text>
<line x1="328.56" y1="426.00" x2="328.56" y2="429.20" stroke="#151515" stroke-width="1.15"/>
<text transform="translate(331.36,436.10) rotate(-45) scale(0.840,1)" font-size="9.0" text-anchor="end" fill="#161616" stroke="#161616" stroke-width="0.12">IL-13</text>
<text transform="translate(255.00,331.30) scale(0.847,1)" font-size="8.9" text-anchor="start" fill="#161616" stroke="#161616" stroke-width="0.12">CLL PBMC#17</text>
<text transform="translate(188.50,384.90) rotate(-90) scale(1.124,1)" font-size="9.6" text-anchor="middle" fill="#161616" stroke="#161616" stroke-width="0.12">pg/mL</text>
<rect x="285.70" y="348.90" width="5.70" height="4.80" fill="#B30C32"/>
<text transform="translate(294.60,354.65) scale(0.847,1)" font-size="8.5" text-anchor="start" fill="#161616" stroke="#161616" stroke-width="0.12">UTD</text>
<rect x="285.70" y="360.00" width="5.70" height="4.80" fill="#24478A"/>
<text transform="translate(294.60,365.75) scale(0.821,1)" font-size="8.5" text-anchor="start" fill="#161616" stroke="#161616" stroke-width="0.12">CAR-37 H-L</text>
<rect x="285.70" y="371.40" width="5.70" height="4.80" fill="#63B042"/>
<text transform="translate(294.60,377.15) scale(0.820,1)" font-size="8.5" text-anchor="start" fill="#161616" stroke="#161616" stroke-width="0.12">CAR-19</text>
<rect x="285.70" y="382.05" width="5.70" height="4.80" fill="#C9C9CD"/>
<text transform="translate(294.60,387.80) scale(0.915,1)" font-size="8.5" text-anchor="start" fill="#161616" stroke="#161616" stroke-width="0.12">Tumor only</text>
<rect x="402.95" y="385.10" width="3.05" height="40.90" fill="#24478A"/>
<line x1="404.47" y1="380.01" x2="404.47" y2="385.10" stroke="#505050" stroke-width="0.9"/>
<line x1="403.67" y1="380.01" x2="405.27" y2="380.01" stroke="#505050" stroke-width="0.9"/>
<rect x="406.00" y="406.10" width="3.05" height="19.90" fill="#63B042"/>
<line x1="407.52" y1="404.70" x2="407.52" y2="406.10" stroke="#505050" stroke-width="0.9"/>
<line x1="406.72" y1="404.70" x2="408.32" y2="404.70" stroke="#505050" stroke-width="0.9"/>
<rect x="416.88" y="397.80" width="3.05" height="28.20" fill="#24478A"/>
<line x1="418.40" y1="393.40" x2="418.40" y2="397.80" stroke="#505050" stroke-width="0.9"/>
<line x1="417.60" y1="393.40" x2="419.20" y2="393.40" stroke="#505050" stroke-width="0.9"/>
<rect x="419.93" y="415.80" width="3.05" height="10.20" fill="#63B042"/>
<rect x="430.81" y="360.80" width="3.05" height="65.20" fill="#24478A"/>
<line x1="432.33" y1="359.47" x2="432.33" y2="360.80" stroke="#505050" stroke-width="0.9"/>
<line x1="431.53" y1="359.47" x2="433.13" y2="359.47" stroke="#505050" stroke-width="0.9"/>
<rect x="433.86" y="374.70" width="3.05" height="51.30" fill="#63B042"/>
<line x1="435.38" y1="368.00" x2="435.38" y2="374.70" stroke="#505050" stroke-width="0.9"/>
<line x1="434.58" y1="368.00" x2="436.19" y2="368.00" stroke="#505050" stroke-width="0.9"/>
<rect x="444.74" y="417.60" width="3.05" height="8.40" fill="#24478A"/>
<rect x="447.79" y="422.20" width="3.05" height="3.80" fill="#63B042"/>
<rect x="458.67" y="425.56" width="3.05" height="0.44" fill="#24478A"/>
<rect x="461.72" y="424.50" width="3.05" height="1.50" fill="#63B042"/>
<rect x="472.60" y="425.34" width="3.05" height="0.66" fill="#24478A"/>
<rect x="475.65" y="425.12" width="3.05" height="0.88" fill="#63B042"/>
<rect x="486.53" y="423.40" width="3.05" height="2.60" fill="#24478A"/>
<rect x="489.58" y="423.60" width="3.05" height="2.40" fill="#63B042"/>
<rect x="500.46" y="403.10" width="3.05" height="22.90" fill="#24478A"/>
<line x1="501.98" y1="399.21" x2="501.98" y2="403.10" stroke="#505050" stroke-width="0.9"/>
<line x1="501.18" y1="399.21" x2="502.78" y2="399.21" stroke="#505050" stroke-width="0.9"/>
<rect x="503.51" y="415.80" width="3.05" height="10.20" fill="#63B042"/>
<line x1="505.03" y1="414.21" x2="505.03" y2="415.80" stroke="#505050" stroke-width="0.9"/>
<line x1="504.23" y1="414.21" x2="505.83" y2="414.21" stroke="#505050" stroke-width="0.9"/>
<line x1="400.20" y1="343.10" x2="400.20" y2="426.50" stroke="#151515" stroke-width="1.4"/>
<line x1="397.00" y1="426.00" x2="509.70" y2="426.00" stroke="#151515" stroke-width="1.3"/>
<text transform="translate(393.30,428.90) scale(0.970,1)" font-size="8.4" text-anchor="end" fill="#161616" stroke="#161616" stroke-width="0.12">0</text>
<line x1="396.80" y1="399.45" x2="400.20" y2="399.45" stroke="#151515" stroke-width="1.15"/>
<text transform="translate(393.30,402.35) scale(0.970,1)" font-size="8.4" text-anchor="end" fill="#161616" stroke="#161616" stroke-width="0.12">6000</text>
<line x1="396.80" y1="372.90" x2="400.20" y2="372.90" stroke="#151515" stroke-width="1.15"/>
<text transform="translate(393.30,375.80) scale(0.970,1)" font-size="8.4" text-anchor="end" fill="#161616" stroke="#161616" stroke-width="0.12">12000</text>
<line x1="396.80" y1="346.35" x2="400.20" y2="346.35" stroke="#151515" stroke-width="1.15"/>
<text transform="translate(393.30,349.25) scale(0.970,1)" font-size="8.4" text-anchor="end" fill="#161616" stroke="#161616" stroke-width="0.12">18000</text>
<line x1="406.00" y1="426.00" x2="406.00" y2="429.20" stroke="#151515" stroke-width="1.15"/>
<text transform="translate(408.80,436.10) rotate(-45) scale(0.875,1)" font-size="9.0" text-anchor="end" fill="#161616" stroke="#161616" stroke-width="0.12">IFN-gamma</text>
<line x1="419.93" y1="426.00" x2="419.93" y2="429.20" stroke="#151515" stroke-width="1.15"/>
<text transform="translate(422.73,436.10) rotate(-45) scale(0.857,1)" font-size="9.0" text-anchor="end" fill="#161616" stroke="#161616" stroke-width="0.12">TNF-alpha</text>
<line x1="433.86" y1="426.00" x2="433.86" y2="429.20" stroke="#151515" stroke-width="1.15"/>
<text transform="translate(436.66,436.10) rotate(-45) scale(0.796,1)" font-size="9.0" text-anchor="end" fill="#161616" stroke="#161616" stroke-width="0.12">GM-CSF</text>
<line x1="447.79" y1="426.00" x2="447.79" y2="429.20" stroke="#151515" stroke-width="1.15"/>
<text transform="translate(450.59,436.10) rotate(-45) scale(0.840,1)" font-size="9.0" text-anchor="end" fill="#161616" stroke="#161616" stroke-width="0.12">IL-2</text>
<line x1="461.72" y1="426.00" x2="461.72" y2="429.20" stroke="#151515" stroke-width="1.15"/>
<text transform="translate(464.52,436.10) rotate(-45) scale(0.840,1)" font-size="9.0" text-anchor="end" fill="#161616" stroke="#161616" stroke-width="0.12">IL-4</text>
<line x1="475.65" y1="426.00" x2="475.65" y2="429.20" stroke="#151515" stroke-width="1.15"/>
<text transform="translate(478.45,436.10) rotate(-45) scale(0.840,1)" font-size="9.0" text-anchor="end" fill="#161616" stroke="#161616" stroke-width="0.12">IL-6</text>
<line x1="489.58" y1="426.00" x2="489.58" y2="429.20" stroke="#151515" stroke-width="1.15"/>
<text transform="translate(492.38,436.10) rotate(-45) scale(0.840,1)" font-size="9.0" text-anchor="end" fill="#161616" stroke="#161616" stroke-width="0.12">IL-10</text>
<line x1="503.51" y1="426.00" x2="503.51" y2="429.20" stroke="#151515" stroke-width="1.15"/>
<text transform="translate(506.31,436.10) rotate(-45) scale(0.840,1)" font-size="9.0" text-anchor="end" fill="#161616" stroke="#161616" stroke-width="0.12">IL-13</text>
<text transform="translate(430.00,331.30) scale(0.847,1)" font-size="8.9" text-anchor="start" fill="#161616" stroke="#161616" stroke-width="0.12">CLL PBMC#19</text>
<text transform="translate(364.00,384.90) rotate(-90) scale(1.124,1)" font-size="9.6" text-anchor="middle" fill="#161616" stroke="#161616" stroke-width="0.12">pg/mL</text>
<rect x="457.80" y="348.90" width="5.60" height="4.80" fill="#B30C32"/>
<text transform="translate(466.50,354.65) scale(0.847,1)" font-size="8.5" text-anchor="start" fill="#161616" stroke="#161616" stroke-width="0.12">UTD</text>
<rect x="457.80" y="360.00" width="5.60" height="4.80" fill="#24478A"/>
<text transform="translate(466.50,365.75) scale(0.821,1)" font-size="8.5" text-anchor="start" fill="#161616" stroke="#161616" stroke-width="0.12">CAR-37 H-L</text>
<rect x="457.80" y="371.40" width="5.60" height="4.80" fill="#63B042"/>
<text transform="translate(466.50,377.15) scale(0.820,1)" font-size="8.5" text-anchor="start" fill="#161616" stroke="#161616" stroke-width="0.12">CAR-19</text>
<rect x="457.80" y="382.10" width="5.60" height="4.80" fill="#C9C9CD"/>
<text transform="translate(466.50,387.85) scale(0.915,1)" font-size="8.5" text-anchor="start" fill="#161616" stroke="#161616" stroke-width="0.12">Tumor only</text>
<rect x="54.90" y="559.25" width="3.05" height="31.15" fill="#24478A"/>
<line x1="56.43" y1="554.50" x2="56.43" y2="559.25" stroke="#505050" stroke-width="0.9"/>
<line x1="55.63" y1="554.50" x2="57.23" y2="554.50" stroke="#505050" stroke-width="0.9"/>
<rect x="57.95" y="561.75" width="3.05" height="28.65" fill="#63B042"/>
<line x1="59.48" y1="559.25" x2="59.48" y2="561.75" stroke="#505050" stroke-width="0.9"/>
<line x1="58.68" y1="559.25" x2="60.27" y2="559.25" stroke="#505050" stroke-width="0.9"/>
<rect x="68.83" y="565.00" width="3.05" height="25.40" fill="#24478A"/>
<line x1="70.36" y1="562.00" x2="70.36" y2="565.00" stroke="#505050" stroke-width="0.9"/>
<line x1="69.56" y1="562.00" x2="71.16" y2="562.00" stroke="#505050" stroke-width="0.9"/>
<rect x="71.88" y="575.00" width="3.05" height="15.40" fill="#63B042"/>
<line x1="73.41" y1="573.75" x2="73.41" y2="575.00" stroke="#505050" stroke-width="0.9"/>
<line x1="72.61" y1="573.75" x2="74.20" y2="573.75" stroke="#505050" stroke-width="0.9"/>
<rect x="79.71" y="589.07" width="3.05" height="1.33" fill="#B30C32"/>
<rect x="82.76" y="523.76" width="3.05" height="66.64" fill="#24478A"/>
<line x1="84.29" y1="521.26" x2="84.29" y2="523.76" stroke="#505050" stroke-width="0.9"/>
<line x1="83.49" y1="521.26" x2="85.09" y2="521.26" stroke="#505050" stroke-width="0.9"/>
<rect x="85.81" y="543.00" width="3.05" height="47.40" fill="#63B042"/>
<line x1="87.34" y1="537.50" x2="87.34" y2="543.00" stroke="#505050" stroke-width="0.9"/>
<line x1="86.54" y1="537.50" x2="88.14" y2="537.50" stroke="#505050" stroke-width="0.9"/>
<rect x="96.69" y="580.00" width="3.05" height="10.40" fill="#24478A"/>
<rect x="99.74" y="572.50" width="3.05" height="17.90" fill="#63B042"/>
<line x1="101.27" y1="571.50" x2="101.27" y2="572.50" stroke="#505050" stroke-width="0.9"/>
<line x1="100.47" y1="571.50" x2="102.07" y2="571.50" stroke="#505050" stroke-width="0.9"/>
<rect x="110.62" y="590.18" width="3.05" height="0.22" fill="#24478A"/>
<rect x="113.67" y="590.18" width="3.05" height="0.22" fill="#63B042"/>
<rect x="121.50" y="589.96" width="3.05" height="0.44" fill="#B30C32"/>
<rect x="124.55" y="590.18" width="3.05" height="0.22" fill="#24478A"/>
<rect x="127.60" y="590.18" width="3.05" height="0.22" fill="#63B042"/>
<rect x="138.48" y="588.25" width="3.05" height="2.15" fill="#24478A"/>
<rect x="141.53" y="589.07" width="3.05" height="1.33" fill="#63B042"/>
<rect x="152.41" y="563.25" width="3.05" height="27.15" fill="#24478A"/>
<line x1="153.93" y1="559.25" x2="153.93" y2="563.25" stroke="#505050" stroke-width="0.9"/>
<line x1="153.13" y1="559.25" x2="154.73" y2="559.25" stroke="#505050" stroke-width="0.9"/>
<rect x="155.46" y="577.50" width="3.05" height="12.90" fill="#63B042"/>
<line x1="156.98" y1="575.00" x2="156.98" y2="577.50" stroke="#505050" stroke-width="0.9"/>
<line x1="156.18" y1="575.00" x2="157.78" y2="575.00" stroke="#505050" stroke-width="0.9"/>
<line x1="49.90" y1="508.10" x2="49.90" y2="590.90" stroke="#151515" stroke-width="1.4"/>
<line x1="46.70" y1="590.40" x2="161.80" y2="590.40" stroke="#151515" stroke-width="1.3"/>
<text transform="translate(42.70,593.30) scale(0.970,1)" font-size="8.4" text-anchor="end" fill="#161616" stroke="#161616" stroke-width="0.12">0</text>
<line x1="46.50" y1="563.87" x2="49.90" y2="563.87" stroke="#151515" stroke-width="1.15"/>
<text transform="translate(42.70,566.77) scale(0.970,1)" font-size="8.4" text-anchor="end" fill="#161616" stroke="#161616" stroke-width="0.12">6000</text>
<line x1="46.50" y1="537.34" x2="49.90" y2="537.34" stroke="#151515" stroke-width="1.15"/>
<text transform="translate(42.70,540.24) scale(0.970,1)" font-size="8.4" text-anchor="end" fill="#161616" stroke="#161616" stroke-width="0.12">12000</text>
<line x1="46.50" y1="510.81" x2="49.90" y2="510.81" stroke="#151515" stroke-width="1.15"/>
<text transform="translate(42.70,513.71) scale(0.970,1)" font-size="8.4" text-anchor="end" fill="#161616" stroke="#161616" stroke-width="0.12">18000</text>
<line x1="57.95" y1="590.40" x2="57.95" y2="593.60" stroke="#151515" stroke-width="1.15"/>
<text transform="translate(60.75,600.50) rotate(-45) scale(0.875,1)" font-size="9.0" text-anchor="end" fill="#161616" stroke="#161616" stroke-width="0.12">IFN-gamma</text>
<line x1="71.88" y1="590.40" x2="71.88" y2="593.60" stroke="#151515" stroke-width="1.15"/>
<text transform="translate(74.68,600.50) rotate(-45) scale(0.857,1)" font-size="9.0" text-anchor="end" fill="#161616" stroke="#161616" stroke-width="0.12">TNF-alpha</text>
<line x1="85.81" y1="590.40" x2="85.81" y2="593.60" stroke="#151515" stroke-width="1.15"/>
<text transform="translate(88.61,600.50) rotate(-45) scale(0.796,1)" font-size="9.0" text-anchor="end" fill="#161616" stroke="#161616" stroke-width="0.12">GM-CSF</text>
<line x1="99.74" y1="590.40" x2="99.74" y2="593.60" stroke="#151515" stroke-width="1.15"/>
<text transform="translate(102.54,600.50) rotate(-45) scale(0.840,1)" font-size="9.0" text-anchor="end" fill="#161616" stroke="#161616" stroke-width="0.12">IL-2</text>
<line x1="113.67" y1="590.40" x2="113.67" y2="593.60" stroke="#151515" stroke-width="1.15"/>
<text transform="translate(116.47,600.50) rotate(-45) scale(0.840,1)" font-size="9.0" text-anchor="end" fill="#161616" stroke="#161616" stroke-width="0.12">IL-4</text>
<line x1="127.60" y1="590.40" x2="127.60" y2="593.60" stroke="#151515" stroke-width="1.15"/>
<text transform="translate(130.40,600.50) rotate(-45) scale(0.840,1)" font-size="9.0" text-anchor="end" fill="#161616" stroke="#161616" stroke-width="0.12">IL-6</text>
<line x1="141.53" y1="590.40" x2="141.53" y2="593.60" stroke="#151515" stroke-width="1.15"/>
<text transform="translate(144.33,600.50) rotate(-45) scale(0.840,1)" font-size="9.0" text-anchor="end" fill="#161616" stroke="#161616" stroke-width="0.12">IL-10</text>
<line x1="155.46" y1="590.40" x2="155.46" y2="593.60" stroke="#151515" stroke-width="1.15"/>
<text transform="translate(158.26,600.50) rotate(-45) scale(0.840,1)" font-size="9.0" text-anchor="end" fill="#161616" stroke="#161616" stroke-width="0.12">IL-13</text>
<text transform="translate(79.60,496.00) scale(0.858,1)" font-size="8.9" text-anchor="start" fill="#161616" stroke="#161616" stroke-width="0.12">DFBL-44685-V1</text>
<text transform="translate(13.40,549.30) rotate(-90) scale(1.124,1)" font-size="9.6" text-anchor="middle" fill="#161616" stroke="#161616" stroke-width="0.12">pg/mL</text>
<rect x="117.80" y="513.25" width="5.60" height="4.80" fill="#B30C32"/>
<text transform="translate(126.90,519.00) scale(0.847,1)" font-size="8.5" text-anchor="start" fill="#161616" stroke="#161616" stroke-width="0.12">UTD</text>
<rect x="117.80" y="524.30" width="5.60" height="4.80" fill="#24478A"/>
<text transform="translate(126.90,530.05) scale(0.821,1)" font-size="8.5" text-anchor="start" fill="#161616" stroke="#161616" stroke-width="0.12">CAR-37 H-L</text>
<rect x="117.80" y="535.60" width="5.60" height="4.80" fill="#63B042"/>
<text transform="translate(126.90,541.35) scale(0.820,1)" font-size="8.5" text-anchor="start" fill="#161616" stroke="#161616" stroke-width="0.12">CAR-19</text>
<rect x="117.80" y="546.60" width="5.60" height="4.80" fill="#C9C9CD"/>
<text transform="translate(126.90,552.35) scale(0.915,1)" font-size="8.5" text-anchor="start" fill="#161616" stroke="#161616" stroke-width="0.12">Tumor only</text>
<rect x="227.10" y="540.51" width="3.05" height="49.89" fill="#24478A"/>
<line x1="228.62" y1="539.25" x2="228.62" y2="540.51" stroke="#505050" stroke-width="0.9"/>
<line x1="227.82" y1="539.25" x2="229.43" y2="539.25" stroke="#505050" stroke-width="0.9"/>
<rect x="230.15" y="547.51" width="3.05" height="42.89" fill="#63B042"/>
<line x1="231.68" y1="543.76" x2="231.68" y2="547.51" stroke="#505050" stroke-width="0.9"/>
<line x1="230.88" y1="543.76" x2="232.48" y2="543.76" stroke="#505050" stroke-width="0.9"/>
<rect x="241.03" y="560.00" width="3.05" height="30.40" fill="#24478A"/>
<line x1="242.56" y1="555.50" x2="242.56" y2="560.00" stroke="#505050" stroke-width="0.9"/>
<line x1="241.75" y1="555.50" x2="243.36" y2="555.50" stroke="#505050" stroke-width="0.9"/>
<rect x="244.08" y="571.25" width="3.05" height="19.15" fill="#63B042"/>
<line x1="245.61" y1="568.00" x2="245.61" y2="571.25" stroke="#505050" stroke-width="0.9"/>
<line x1="244.81" y1="568.00" x2="246.41" y2="568.00" stroke="#505050" stroke-width="0.9"/>
<rect x="254.96" y="531.76" width="3.05" height="58.64" fill="#24478A"/>
<line x1="256.48" y1="528.25" x2="256.48" y2="531.76" stroke="#505050" stroke-width="0.9"/>
<line x1="255.68" y1="528.25" x2="257.28" y2="528.25" stroke="#505050" stroke-width="0.9"/>
<rect x="258.01" y="532.00" width="3.05" height="58.40" fill="#63B042"/>
<line x1="259.53" y1="527.50" x2="259.53" y2="532.00" stroke="#505050" stroke-width="0.9"/>
<line x1="258.73" y1="527.50" x2="260.33" y2="527.50" stroke="#505050" stroke-width="0.9"/>
<rect x="268.89" y="571.25" width="3.05" height="19.15" fill="#24478A"/>
<line x1="270.41" y1="569.50" x2="270.41" y2="571.25" stroke="#505050" stroke-width="0.9"/>
<line x1="269.61" y1="569.50" x2="271.21" y2="569.50" stroke="#505050" stroke-width="0.9"/>
<rect x="271.94" y="568.25" width="3.05" height="22.15" fill="#63B042"/>
<line x1="273.46" y1="567.00" x2="273.46" y2="568.25" stroke="#505050" stroke-width="0.9"/>
<line x1="272.66" y1="567.00" x2="274.26" y2="567.00" stroke="#505050" stroke-width="0.9"/>
<rect x="282.82" y="590.18" width="3.05" height="0.22" fill="#24478A"/>
<rect x="285.87" y="590.18" width="3.05" height="0.22" fill="#63B042"/>
<rect x="296.75" y="588.50" width="3.05" height="1.90" fill="#24478A"/>
<rect x="299.80" y="589.96" width="3.05" height="0.44" fill="#63B042"/>
<rect x="310.68" y="587.50" width="3.05" height="2.90" fill="#24478A"/>
<rect x="313.73" y="588.25" width="3.05" height="2.15" fill="#63B042"/>
<rect x="324.61" y="571.25" width="3.05" height="19.15" fill="#24478A"/>
<line x1="326.13" y1="568.75" x2="326.13" y2="571.25" stroke="#505050" stroke-width="0.9"/>
<line x1="325.33" y1="568.75" x2="326.93" y2="568.75" stroke="#505050" stroke-width="0.9"/>
<rect x="327.66" y="580.75" width="3.05" height="9.65" fill="#63B042"/>
<line x1="329.18" y1="578.75" x2="329.18" y2="580.75" stroke="#505050" stroke-width="0.9"/>
<line x1="328.38" y1="578.75" x2="329.98" y2="578.75" stroke="#505050" stroke-width="0.9"/>
<line x1="224.30" y1="507.90" x2="224.30" y2="590.90" stroke="#151515" stroke-width="1.4"/>
<line x1="221.20" y1="590.40" x2="334.30" y2="590.40" stroke="#151515" stroke-width="1.3"/>
<text transform="translate(216.90,593.30) scale(0.970,1)" font-size="8.4" text-anchor="end" fill="#161616" stroke="#161616" stroke-width="0.12">0</text>
<line x1="220.90" y1="563.87" x2="224.30" y2="563.87" stroke="#151515" stroke-width="1.15"/>
<text transform="translate(216.90,566.77) scale(0.970,1)" font-size="8.4" text-anchor="end" fill="#161616" stroke="#161616" stroke-width="0.12">6000</text>
<line x1="220.90" y1="537.34" x2="224.30" y2="537.34" stroke="#151515" stroke-width="1.15"/>
<text transform="translate(216.90,540.24) scale(0.970,1)" font-size="8.4" text-anchor="end" fill="#161616" stroke="#161616" stroke-width="0.12">12000</text>
<line x1="220.90" y1="510.81" x2="224.30" y2="510.81" stroke="#151515" stroke-width="1.15"/>
<text transform="translate(216.90,513.71) scale(0.970,1)" font-size="8.4" text-anchor="end" fill="#161616" stroke="#161616" stroke-width="0.12">18000</text>
<line x1="230.15" y1="590.40" x2="230.15" y2="593.60" stroke="#151515" stroke-width="1.15"/>
<text transform="translate(232.95,600.50) rotate(-45) scale(0.875,1)" font-size="9.0" text-anchor="end" fill="#161616" stroke="#161616" stroke-width="0.12">IFN-gamma</text>
<line x1="244.08" y1="590.40" x2="244.08" y2="593.60" stroke="#151515" stroke-width="1.15"/>
<text transform="translate(246.88,600.50) rotate(-45) scale(0.857,1)" font-size="9.0" text-anchor="end" fill="#161616" stroke="#161616" stroke-width="0.12">TNF-alpha</text>
<line x1="258.01" y1="590.40" x2="258.01" y2="593.60" stroke="#151515" stroke-width="1.15"/>
<text transform="translate(260.81,600.50) rotate(-45) scale(0.796,1)" font-size="9.0" text-anchor="end" fill="#161616" stroke="#161616" stroke-width="0.12">GM-CSF</text>
<line x1="271.94" y1="590.40" x2="271.94" y2="593.60" stroke="#151515" stroke-width="1.15"/>
<text transform="translate(274.74,600.50) rotate(-45) scale(0.840,1)" font-size="9.0" text-anchor="end" fill="#161616" stroke="#161616" stroke-width="0.12">IL-2</text>
<line x1="285.87" y1="590.40" x2="285.87" y2="593.60" stroke="#151515" stroke-width="1.15"/>
<text transform="translate(288.67,600.50) rotate(-45) scale(0.840,1)" font-size="9.0" text-anchor="end" fill="#161616" stroke="#161616" stroke-width="0.12">IL-4</text>
<line x1="299.80" y1="590.40" x2="299.80" y2="593.60" stroke="#151515" stroke-width="1.15"/>
<text transform="translate(302.60,600.50) rotate(-45) scale(0.840,1)" font-size="9.0" text-anchor="end" fill="#161616" stroke="#161616" stroke-width="0.12">IL-6</text>
<line x1="313.73" y1="590.40" x2="313.73" y2="593.60" stroke="#151515" stroke-width="1.15"/>
<text transform="translate(316.53,600.50) rotate(-45) scale(0.840,1)" font-size="9.0" text-anchor="end" fill="#161616" stroke="#161616" stroke-width="0.12">IL-10</text>
<line x1="327.66" y1="590.40" x2="327.66" y2="593.60" stroke="#151515" stroke-width="1.15"/>
<text transform="translate(330.46,600.50) rotate(-45) scale(0.840,1)" font-size="9.0" text-anchor="end" fill="#161616" stroke="#161616" stroke-width="0.12">IL-13</text>
<text transform="translate(251.50,496.00) scale(0.868,1)" font-size="8.9" text-anchor="start" fill="#161616" stroke="#161616" stroke-width="0.12">DFBL-98848-V3</text>
<text transform="translate(187.30,547.80) rotate(-90) scale(1.124,1)" font-size="9.6" text-anchor="middle" fill="#161616" stroke="#161616" stroke-width="0.12">pg/mL</text>
<rect x="286.25" y="513.50" width="5.00" height="4.80" fill="#B30C32"/>
<text transform="translate(295.00,519.25) scale(0.847,1)" font-size="8.5" text-anchor="start" fill="#161616" stroke="#161616" stroke-width="0.12">UTD</text>
<rect x="286.25" y="524.50" width="5.00" height="4.80" fill="#24478A"/>
<text transform="translate(295.00,530.25) scale(0.821,1)" font-size="8.5" text-anchor="start" fill="#161616" stroke="#161616" stroke-width="0.12">CAR-37 H-L</text>
<rect x="286.25" y="535.80" width="5.00" height="4.80" fill="#63B042"/>
<text transform="translate(295.00,541.55) scale(0.820,1)" font-size="8.5" text-anchor="start" fill="#161616" stroke="#161616" stroke-width="0.12">CAR-19</text>
<rect x="286.25" y="546.80" width="5.00" height="4.80" fill="#C9C9CD"/>
<text transform="translate(295.00,552.55) scale(0.915,1)" font-size="8.5" text-anchor="start" fill="#161616" stroke="#161616" stroke-width="0.12">Tumor only</text>
<rect x="403.60" y="573.80" width="3.05" height="16.60" fill="#B30C32"/>
<line x1="405.12" y1="565.30" x2="405.12" y2="573.80" stroke="#505050" stroke-width="0.9"/>
<line x1="404.32" y1="565.30" x2="405.92" y2="565.30" stroke="#505050" stroke-width="0.9"/>
<rect x="406.65" y="544.50" width="3.05" height="45.90" fill="#24478A"/>
<line x1="408.17" y1="542.20" x2="408.17" y2="544.50" stroke="#505050" stroke-width="0.9"/>
<line x1="407.37" y1="542.20" x2="408.97" y2="542.20" stroke="#505050" stroke-width="0.9"/>
<rect x="409.70" y="560.50" width="3.05" height="29.90" fill="#63B042"/>
<line x1="411.22" y1="557.20" x2="411.22" y2="560.50" stroke="#505050" stroke-width="0.9"/>
<line x1="410.42" y1="557.20" x2="412.02" y2="557.20" stroke="#505050" stroke-width="0.9"/>
<rect x="417.53" y="585.90" width="3.05" height="4.50" fill="#B30C32"/>
<line x1="419.05" y1="583.00" x2="419.05" y2="585.90" stroke="#505050" stroke-width="0.9"/>
<line x1="418.25" y1="583.00" x2="419.85" y2="583.00" stroke="#505050" stroke-width="0.9"/>
<rect x="420.58" y="566.90" width="3.05" height="23.50" fill="#24478A"/>
<line x1="422.10" y1="564.20" x2="422.10" y2="566.90" stroke="#505050" stroke-width="0.9"/>
<line x1="421.30" y1="564.20" x2="422.90" y2="564.20" stroke="#505050" stroke-width="0.9"/>
<rect x="423.63" y="573.80" width="3.05" height="16.60" fill="#63B042"/>
<line x1="425.15" y1="572.20" x2="425.15" y2="573.80" stroke="#505050" stroke-width="0.9"/>
<line x1="424.35" y1="572.20" x2="425.95" y2="572.20" stroke="#505050" stroke-width="0.9"/>
<rect x="431.46" y="562.30" width="3.05" height="28.10" fill="#B30C32"/>
<line x1="432.98" y1="548.90" x2="432.98" y2="562.30" stroke="#505050" stroke-width="0.9"/>
<line x1="432.18" y1="548.90" x2="433.78" y2="548.90" stroke="#505050" stroke-width="0.9"/>
<rect x="434.51" y="521.90" width="3.05" height="68.50" fill="#24478A"/>
<line x1="436.03" y1="518.00" x2="436.03" y2="521.90" stroke="#505050" stroke-width="0.9"/>
<line x1="435.23" y1="518.00" x2="436.83" y2="518.00" stroke="#505050" stroke-width="0.9"/>
<rect x="437.56" y="535.81" width="3.05" height="54.59" fill="#63B042"/>
<line x1="439.08" y1="529.50" x2="439.08" y2="535.81" stroke="#505050" stroke-width="0.9"/>
<line x1="438.28" y1="529.50" x2="439.88" y2="529.50" stroke="#505050" stroke-width="0.9"/>
<rect x="445.39" y="588.40" width="3.05" height="2.00" fill="#B30C32"/>
<rect x="448.44" y="586.10" width="3.05" height="4.30" fill="#24478A"/>
<rect x="451.49" y="578.90" width="3.05" height="11.50" fill="#63B042"/>
<rect x="462.37" y="590.18" width="3.05" height="0.22" fill="#24478A"/>
<rect x="465.42" y="590.18" width="3.05" height="0.22" fill="#63B042"/>
<rect x="473.25" y="586.50" width="3.05" height="3.90" fill="#B30C32"/>
<line x1="474.77" y1="584.00" x2="474.77" y2="586.50" stroke="#505050" stroke-width="0.9"/>
<line x1="473.97" y1="584.00" x2="475.57" y2="584.00" stroke="#505050" stroke-width="0.9"/>
<rect x="476.30" y="583.10" width="3.05" height="7.30" fill="#24478A"/>
<rect x="479.35" y="582.40" width="3.05" height="8.00" fill="#63B042"/>
<line x1="480.88" y1="581.00" x2="480.88" y2="582.40" stroke="#505050" stroke-width="0.9"/>
<line x1="480.07" y1="581.00" x2="481.68" y2="581.00" stroke="#505050" stroke-width="0.9"/>
<rect x="490.23" y="588.20" width="3.05" height="2.20" fill="#24478A"/>
<rect x="493.28" y="588.40" width="3.05" height="2.00" fill="#63B042"/>
<rect x="501.11" y="585.90" width="3.05" height="4.50" fill="#B30C32"/>
<line x1="502.63" y1="583.00" x2="502.63" y2="585.90" stroke="#505050" stroke-width="0.9"/>
<line x1="501.83" y1="583.00" x2="503.43" y2="583.00" stroke="#505050" stroke-width="0.9"/>
<rect x="504.16" y="568.50" width="3.05" height="21.90" fill="#24478A"/>
<line x1="505.68" y1="566.20" x2="505.68" y2="568.50" stroke="#505050" stroke-width="0.9"/>
<line x1="504.88" y1="566.20" x2="506.48" y2="566.20" stroke="#505050" stroke-width="0.9"/>
<rect x="507.21" y="579.20" width="3.05" height="11.20" fill="#63B042"/>
<line x1="508.73" y1="577.30" x2="508.73" y2="579.20" stroke="#505050" stroke-width="0.9"/>
<line x1="507.93" y1="577.30" x2="509.53" y2="577.30" stroke="#505050" stroke-width="0.9"/>
<line x1="401.90" y1="507.90" x2="401.90" y2="590.90" stroke="#151515" stroke-width="1.4"/>
<line x1="399.00" y1="590.40" x2="512.20" y2="590.40" stroke="#151515" stroke-width="1.3"/>
<text transform="translate(394.60,593.30) scale(0.970,1)" font-size="8.4" text-anchor="end" fill="#161616" stroke="#161616" stroke-width="0.12">0</text>
<line x1="398.50" y1="563.87" x2="401.90" y2="563.87" stroke="#151515" stroke-width="1.15"/>
<text transform="translate(394.60,566.77) scale(0.970,1)" font-size="8.4" text-anchor="end" fill="#161616" stroke="#161616" stroke-width="0.12">6000</text>
<line x1="398.50" y1="537.34" x2="401.90" y2="537.34" stroke="#151515" stroke-width="1.15"/>
<text transform="translate(394.60,540.24) scale(0.970,1)" font-size="8.4" text-anchor="end" fill="#161616" stroke="#161616" stroke-width="0.12">12000</text>
<line x1="398.50" y1="510.81" x2="401.90" y2="510.81" stroke="#151515" stroke-width="1.15"/>
<text transform="translate(394.60,513.71) scale(0.970,1)" font-size="8.4" text-anchor="end" fill="#161616" stroke="#161616" stroke-width="0.12">18000</text>
<line x1="409.70" y1="590.40" x2="409.70" y2="593.60" stroke="#151515" stroke-width="1.15"/>
<text transform="translate(412.50,600.50) rotate(-45) scale(0.875,1)" font-size="9.0" text-anchor="end" fill="#161616" stroke="#161616" stroke-width="0.12">IFN-gamma</text>
<line x1="423.63" y1="590.40" x2="423.63" y2="593.60" stroke="#151515" stroke-width="1.15"/>
<text transform="translate(426.43,600.50) rotate(-45) scale(0.857,1)" font-size="9.0" text-anchor="end" fill="#161616" stroke="#161616" stroke-width="0.12">TNF-alpha</text>
<line x1="437.56" y1="590.40" x2="437.56" y2="593.60" stroke="#151515" stroke-width="1.15"/>
<text transform="translate(440.36,600.50) rotate(-45) scale(0.796,1)" font-size="9.0" text-anchor="end" fill="#161616" stroke="#161616" stroke-width="0.12">GM-CSF</text>
<line x1="451.49" y1="590.40" x2="451.49" y2="593.60" stroke="#151515" stroke-width="1.15"/>
<text transform="translate(454.29,600.50) rotate(-45) scale(0.840,1)" font-size="9.0" text-anchor="end" fill="#161616" stroke="#161616" stroke-width="0.12">IL-2</text>
<line x1="465.42" y1="590.40" x2="465.42" y2="593.60" stroke="#151515" stroke-width="1.15"/>
<text transform="translate(468.22,600.50) rotate(-45) scale(0.840,1)" font-size="9.0" text-anchor="end" fill="#161616" stroke="#161616" stroke-width="0.12">IL-4</text>
<line x1="479.35" y1="590.40" x2="479.35" y2="593.60" stroke="#151515" stroke-width="1.15"/>
<text transform="translate(482.15,600.50) rotate(-45) scale(0.840,1)" font-size="9.0" text-anchor="end" fill="#161616" stroke="#161616" stroke-width="0.12">IL-6</text>
<line x1="493.28" y1="590.40" x2="493.28" y2="593.60" stroke="#151515" stroke-width="1.15"/>
<text transform="translate(496.08,600.50) rotate(-45) scale(0.840,1)" font-size="9.0" text-anchor="end" fill="#161616" stroke="#161616" stroke-width="0.12">IL-10</text>
<line x1="507.21" y1="590.40" x2="507.21" y2="593.60" stroke="#151515" stroke-width="1.15"/>
<text transform="translate(510.01,600.50) rotate(-45) scale(0.840,1)" font-size="9.0" text-anchor="end" fill="#161616" stroke="#161616" stroke-width="0.12">IL-13</text>
<text transform="translate(431.00,496.00) scale(0.868,1)" font-size="8.9" text-anchor="start" fill="#161616" stroke="#161616" stroke-width="0.12">DFBL-96069-V3</text>
<text transform="translate(361.30,547.80) rotate(-90) scale(1.124,1)" font-size="9.6" text-anchor="middle" fill="#161616" stroke="#161616" stroke-width="0.12">pg/mL</text>
<rect x="460.30" y="513.20" width="5.50" height="4.80" fill="#B30C32"/>
<text transform="translate(469.10,518.95) scale(0.847,1)" font-size="8.5" text-anchor="start" fill="#161616" stroke="#161616" stroke-width="0.12">UTD</text>
<rect x="460.30" y="524.20" width="5.50" height="4.80" fill="#24478A"/>
<text transform="translate(469.10,529.95) scale(0.821,1)" font-size="8.5" text-anchor="start" fill="#161616" stroke="#161616" stroke-width="0.12">CAR-37 H-L</text>
<rect x="460.30" y="535.60" width="5.50" height="4.80" fill="#63B042"/>
<text transform="translate(469.10,541.35) scale(0.820,1)" font-size="8.5" text-anchor="start" fill="#161616" stroke="#161616" stroke-width="0.12">CAR-19</text>
<rect x="460.30" y="546.70" width="5.50" height="4.80" fill="#C9C9CD"/>
<text transform="translate(469.10,552.45) scale(0.915,1)" font-size="8.5" text-anchor="start" fill="#161616" stroke="#161616" stroke-width="0.12">Tumor only</text>
<text transform="translate(9.20,17.90) scale(0.880,1)" font-size="11.8" text-anchor="start" fill="#111" stroke="#111" stroke-width="0.12">A</text>
<text transform="translate(9.60,324.80) scale(0.880,1)" font-size="11.8" text-anchor="start" fill="#111" stroke="#111" stroke-width="0.12">B</text>
<text transform="translate(8.80,489.20) scale(0.980,1)" font-size="11.8" text-anchor="start" fill="#111" stroke="#111" stroke-width="0.12">C</text>
<rect x="0.00" y="0.00" width="520.00" height="1.50" fill="#141414"/>
<rect x="0.00" y="0.00" width="1.40" height="640.00" fill="#141414"/>
<rect x="518.30" y="0.00" width="1.70" height="640.00" fill="#141414"/>
<rect x="0.00" y="638.50" width="520.00" height="1.50" fill="#141414"/>
</svg>
</body></html>
